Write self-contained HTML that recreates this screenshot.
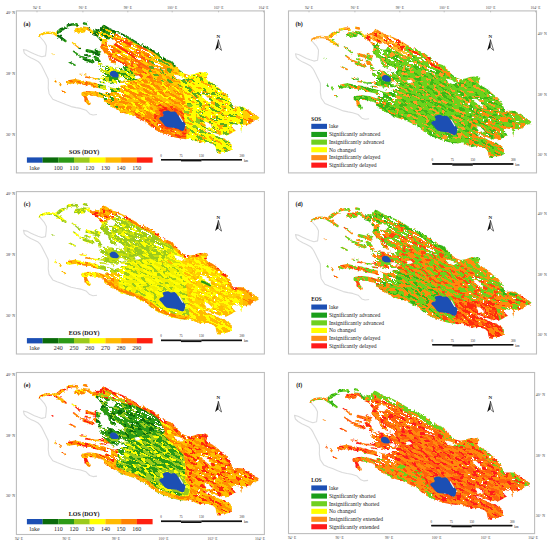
<!DOCTYPE html>
<html><head><meta charset="utf-8"><style>
html,body{margin:0;padding:0;background:#fff;width:550px;height:543px;overflow:hidden;position:relative;font-family:"Liberation Serif", serif;}
</style></head><body>
<svg width="550" height="543" viewBox="0 0 550 543" style="position:absolute;left:0;top:0">
<defs>
<clipPath id="hd"><path d="M100.0 28.0 L140.0 40.0 L170.0 60.0 L165.0 70.0 L130.0 62.0 L104.0 50.0 L98.0 38.0 Z"/><path d="M98.0 52.0 L128.0 66.0 L128.0 82.0 L124.0 100.0 L100.0 98.0 L96.0 60.0 Z"/></clipPath>
<clipPath id="hs"><path d="M178.0 62.0 L210.0 72.0 L262.0 118.0 L245.0 132.0 L200.0 150.0 L192.0 135.0 L188.0 95.0 Z"/><path d="M150.0 118.0 L180.0 125.0 L182.0 140.0 L150.0 135.0 Z"/></clipPath>
<filter id="nzh1" x="-150" y="-150" width="600" height="500" filterUnits="userSpaceOnUse">
<feTurbulence type="fractalNoise" baseFrequency="0.08 0.65" numOctaves="2" seed="11"/>
<feColorMatrix type="matrix" values="0 0 0 0 0  0 0 0 0 0  0 0 0 0 0  1 0 0 0 0"/>
<feComponentTransfer><feFuncA type="discrete" tableValues="0 0 0 0 0 0 0 0 0 0 0 0 0 0 0 0 0 0 0 0 0 0 0 0 0 0 0 0 0 0 0 0 0 0 0 0 0 0 0 0 0 0 0 0 0 0 0 0 0 0 0 0 0 0 0 0 0 0 0 0 1 1 1 1 1 1 1 1 1 1 1 1 1 1 1 1 1 1 1 1 1 1 1 1 1 1 1 1 1 1 1 1 1 1 1 1 1 1 1 1"/></feComponentTransfer>
</filter>
<filter id="nzh2" x="-150" y="-150" width="600" height="500" filterUnits="userSpaceOnUse">
<feTurbulence type="fractalNoise" baseFrequency="0.2 0.7" numOctaves="2" seed="5"/>
<feColorMatrix type="matrix" values="0 0 0 0 0  0 0 0 0 0  0 0 0 0 0  1 0 0 0 0"/>
<feComponentTransfer><feFuncA type="discrete" tableValues="0 0 0 0 0 0 0 0 0 0 0 0 0 0 0 0 0 0 0 0 0 0 0 0 0 0 0 0 0 0 0 0 0 0 0 0 0 0 0 0 0 0 0 0 0 0 0 0 0 0 0 0 0 0 0 0 0 0 0 0 0 0 0 0 0 0 0 0 0 1 1 1 1 1 1 1 1 1 1 1 1 1 1 1 1 1 1 1 1 1 1 1 1 1 1 1 1 1 1 1"/></feComponentTransfer>
</filter>
<filter id="rough" x="0" y="0" width="300" height="200" filterUnits="userSpaceOnUse" color-interpolation-filters="sRGB">
<feTurbulence type="fractalNoise" baseFrequency="0.35" numOctaves="2" seed="3"/>
<feColorMatrix type="matrix" values="1 0 0 0 0  0 1 0 0 0  0 0 1 0 0  0 0 0 0 1" result="t"/>
<feDisplacementMap in="SourceGraphic" in2="t" scale="3.2" xChannelSelector="R" yChannelSelector="G"/>
</filter>
<mask id="dm" maskUnits="userSpaceOnUse" x="0" y="0" width="300" height="200">
<rect x="0" y="0" width="300" height="200" fill="#000"/>
<g filter="url(#rough)">
<path d="M93.0 31.0 L96.0 29.5 L100.0 29.0 L103.5 24.3 L108.7 27.4 L114.5 30.3 L121.8 33.2 L129.1 36.8 L134.9 40.5 L140.7 43.4 L146.5 46.3 L153.8 49.9 L159.6 54.3 L162.5 57.2 L166.9 59.4 L172.7 61.5 L175.8 66.2 L180.2 70.5 L184.5 73.5 L188.9 74.9 L193.3 74.2 L197.6 72.7 L200.5 72.3 L204.9 72.7 L208.5 74.6 L205.6 76.4 L207.8 80.7 L212.2 82.9 L216.5 85.8 L221.4 90.2 L225.7 93.1 L230.1 98.9 L231.5 103.0 L233.2 106.8 L238.6 106.4 L243.2 106.8 L245.9 108.6 L248.6 110.5 L253.2 113.2 L256.8 115.5 L259.5 117.7 L257.7 119.5 L254.1 120.9 L251.4 123.2 L248.6 124.5 L245.0 125.0 L242.3 124.1 L241.8 127.7 L241.4 131.4 L238.6 128.6 L236.8 130.5 L234.5 131.4 L231.4 133.2 L226.0 136.0 L220.0 135.0 L213.6 132.5 L208.2 130.5 L203.6 129.7 L208.2 132.0 L212.7 133.8 L216.4 135.6 L220.0 137.5 L224.5 138.4 L226.4 140.2 L230.0 142.0 L231.8 144.7 L231.8 148.4 L230.0 151.1 L226.4 152.0 L222.7 152.0 L220.0 153.8 L217.3 153.8 L216.4 151.1 L215.5 146.5 L212.7 143.8 L208.2 142.9 L203.6 142.0 L199.1 142.9 L193.6 140.2 L190.0 138.0 L186.0 139.2 L180.0 138.6 L177.1 137.9 L171.3 136.5 L165.5 134.3 L159.6 132.1 L153.8 129.2 L149.5 125.5 L145.1 121.9 L139.3 119.0 L133.5 116.1 L126.2 113.9 L118.9 111.0 L111.6 106.6 L105.8 102.3 L103.5 100.0 L104.0 95.0 L108.0 91.0 L114.0 89.0 L120.0 86.0 L124.0 83.0 L128.0 80.0 L123.0 78.5 L120.0 77.5 L125.0 71.0 L122.0 66.0 L115.0 64.5 L110.0 62.0 L108.0 56.0 L104.0 52.0 L100.0 47.0 L102.0 43.0 L98.0 38.0 L93.0 33.0 Z" fill="#fff"/>
<path d="M73.6 29.5 L76.5 27.8 L82.4 28.1 L86.0 30.3 L84.5 32.5 L79.5 33.2 L75.0 32.2 Z" fill="#fff"/>
<path d="M101.0 68.0 L110.0 66.5 L120.0 68.0 L127.0 72.0 L128.0 78.0 L124.0 83.0 L112.0 83.0 L103.0 80.0 L100.0 74.0 Z" fill="#fff"/>
<path d="M39.3 35.8 L43.8 33.2 L48.9 32.6 L54.1 33.2 L56.7 35.2 L60.5 37.1 L63.7 39.7 L65.5 41.0" fill="none" stroke="#fff" stroke-width="2.4" stroke-linecap="round" stroke-linejoin="round"/>
<path d="M57.5 32.5 L61.0 29.5 L66.0 27.8" fill="none" stroke="#fff" stroke-width="3.2" stroke-linecap="round" stroke-linejoin="round"/>
<path d="M58.5 36.5 L61.5 38.5 L64.5 40.5" fill="none" stroke="#fff" stroke-width="1.4" stroke-linecap="round" stroke-linejoin="round"/>
<path d="M67.8 25.2 L73.6 24.3 L77.5 24.8" fill="none" stroke="#fff" stroke-width="2.5" stroke-linecap="round" stroke-linejoin="round"/>
<path d="M84.0 23.5 L87.0 24.2" fill="none" stroke="#fff" stroke-width="2.4" stroke-linecap="round" stroke-linejoin="round"/>
<path d="M82.7 28.0 L87.0 28.4 L90.9 30.5 L94.0 33.0" fill="none" stroke="#fff" stroke-width="3.0" stroke-linecap="round" stroke-linejoin="round"/>
<path d="M72.2 42.6 L76.0 45.5 L79.5 48.5" fill="none" stroke="#fff" stroke-width="1.4" stroke-linecap="round" stroke-linejoin="round"/>
<path d="M73.6 51.4 L79.5 55.7 L86.7 58.6" fill="none" stroke="#fff" stroke-width="1.6" stroke-linecap="round" stroke-linejoin="round"/>
<path d="M69.3 62.3 L75.1 65.2" fill="none" stroke="#fff" stroke-width="1.6" stroke-linecap="round" stroke-linejoin="round"/>
<path d="M68.7 82.2 L75.0 81.0 L82.0 82.5 L89.0 83.6 L96.0 85.5 L103.0 87.0 L111.0 89.5 L118.0 91.0" fill="none" stroke="#fff" stroke-width="4.2" stroke-linecap="round" stroke-linejoin="round"/>
<path d="M83.5 94.0 L90.0 93.2 L97.0 94.0 L103.6 96.0 L110.0 98.0 L116.0 99.5" fill="none" stroke="#fff" stroke-width="4.5" stroke-linecap="round" stroke-linejoin="round"/>
<path d="M85.0 96.0 L86.5 100.5 L89.0 103.5" fill="none" stroke="#fff" stroke-width="3.5" stroke-linecap="round" stroke-linejoin="round"/>
<path d="M55.0 80.5 L56.0 82.0" fill="none" stroke="#fff" stroke-width="1.5" stroke-linecap="round" stroke-linejoin="round"/>
<path d="M59.5 83.0 L60.5 85.5" fill="none" stroke="#fff" stroke-width="1.5" stroke-linecap="round" stroke-linejoin="round"/>
<path d="M62.0 91.0 L64.4 92.8" fill="none" stroke="#fff" stroke-width="1.5" stroke-linecap="round" stroke-linejoin="round"/>
<path d="M52.0 54.0 L53.0 54.5" fill="none" stroke="#fff" stroke-width="1.2" stroke-linecap="round" stroke-linejoin="round"/>
<path d="M101.0 69.5 L106.0 70.5 L112.0 72.0" fill="none" stroke="#fff" stroke-width="2.4" stroke-linecap="round" stroke-linejoin="round"/>
<path d="M119.0 74.0 L124.0 75.0 L128.0 76.5" fill="none" stroke="#fff" stroke-width="1.8" stroke-linecap="round" stroke-linejoin="round"/>
<path d="M86.0 77.0 L94.0 78.5 L102.0 79.0 L108.0 78.0" fill="none" stroke="#fff" stroke-width="1.6" stroke-linecap="round" stroke-linejoin="round"/>
<path d="M99.0 66.0 L104.0 67.0 L108.0 66.0" fill="none" stroke="#fff" stroke-width="1.4" stroke-linecap="round" stroke-linejoin="round"/>
<path d="M100.0 82.0 L108.0 83.0 L114.0 85.5" fill="none" stroke="#fff" stroke-width="1.4" stroke-linecap="round" stroke-linejoin="round"/>
<path d="M80.0 74.0 L86.0 75.0" fill="none" stroke="#fff" stroke-width="1.2" stroke-linecap="round" stroke-linejoin="round"/>
<path d="M87.0 50.5 L93.0 52.0 L99.0 55.0" fill="none" stroke="#fff" stroke-width="3.0" stroke-linecap="round" stroke-linejoin="round"/>
<path d="M84.0 59.0 L89.0 60.5 L93.0 62.0" fill="none" stroke="#fff" stroke-width="3.0" stroke-linecap="round" stroke-linejoin="round"/>
<path d="M95.0 57.0 L99.0 61.0 L100.0 64.0" fill="none" stroke="#fff" stroke-width="3.0" stroke-linecap="round" stroke-linejoin="round"/>
<path d="M96.0 50.0 L99.0 52.5" fill="none" stroke="#fff" stroke-width="3.0" stroke-linecap="round" stroke-linejoin="round"/>
<path d="M86.0 55.0 L90.0 56.0" fill="none" stroke="#fff" stroke-width="2.0" stroke-linecap="round" stroke-linejoin="round"/>
<path d="M106.4 40.0 L112.0 38.5 L116.4 42.0 L113.0 45.6 L107.0 44.5 Z" fill="#000"/>
<path d="M118.0 77.5 L122.0 77.0 L126.0 80.0 L122.0 81.5 Z" fill="#000"/>
<path d="M134.5 76.0 L139.0 75.5 L141.0 78.0 L136.0 79.0 Z" fill="#000"/>
<path d="M201.0 94.5 L205.0 95.0 L211.0 101.0 L210.0 103.3 L204.0 99.0 Z" fill="#000"/>
<path d="M175.0 74.5 L181.0 76.0 L186.0 79.5 L180.0 79.8 L175.0 77.0 Z" fill="#000"/>
<path d="M204.5 122.0 L208.0 122.5 L212.7 127.0 L210.0 128.4 L206.0 126.0 Z" fill="#000"/>
<path d="M232.5 124.0 L240.0 125.0 L241.0 132.0 L236.0 131.0 L233.0 128.0 Z" fill="#000"/>
<g clip-path="url(#hd)"><g transform="rotate(27 150 100)"><rect x="-100" y="-100" width="500" height="400" fill="#000" filter="url(#nzh1)"/></g></g>
<g clip-path="url(#hs)"><g transform="rotate(27 150 100)"><rect x="-100" y="-100" width="500" height="400" fill="#000" filter="url(#nzh2)"/></g></g>
</g>
</mask>
<filter id="sb" x="-5%" y="-5%" width="110%" height="110%"><feGaussianBlur stdDeviation="0.5"/></filter>
<filter id="nzf" x="-150" y="-150" width="600" height="500" filterUnits="userSpaceOnUse">
<feTurbulence type="fractalNoise" baseFrequency="0.13 0.45" numOctaves="3" seed="7"/>
<feColorMatrix type="matrix" values="0 0 0 0 1  0 0 0 0 1  0 0 0 0 1  1 0 0 0 0"/>
<feComponentTransfer><feFuncA type="discrete" tableValues="0 0 0 0 0 1 1 1 1 1"/></feComponentTransfer>
</filter>
<filter id="nzf2" x="-150" y="-150" width="600" height="500" filterUnits="userSpaceOnUse">
<feTurbulence type="fractalNoise" baseFrequency="0.17 0.42" numOctaves="3" seed="23"/>
<feColorMatrix type="matrix" values="0 0 0 0 1  0 0 0 0 1  0 0 0 0 1  1 0 0 0 0"/>
<feComponentTransfer><feFuncA type="discrete" tableValues="0 0 0 0 0 0 0 0 0 0 0 0 0 0 0 0 0 0 0 0 0 0 0 0 0 0 0 0 0 0 0 0 0 0 0 0 0 0 0 0 0 0 0 0 0 0 0 0 0 0 0 0 0 0 0 0 0 0 0 0 1 1 1 1 1 1 1 1 1 1 1 1 1 1 1 1 1 1 1 1 1 1 1 1 1 1 1 1 1 1 1 1 1 1 1 1 1 1 1 1"/></feComponentTransfer>
</filter>
<mask id="nm2" maskUnits="userSpaceOnUse" x="-50" y="-50" width="400" height="300">
<g transform="rotate(24 150 100)"><rect x="-100" y="-100" width="500" height="400" fill="#fff" filter="url(#nzf2)"/></g>
</mask>
<filter id="nzfL" x="-150" y="-150" width="600" height="500" filterUnits="userSpaceOnUse">
<feTurbulence type="fractalNoise" baseFrequency="0.13 0.45" numOctaves="3" seed="7"/>
<feColorMatrix type="matrix" values="0 0 0 0 1  0 0 0 0 1  0 0 0 0 1  1 0 0 0 0"/>
<feComponentTransfer><feFuncA type="discrete" tableValues="0 0 0 0 0 0 0 0 0 0 0 0 0 0 0 0 0 0 0 0 0 0 0 0 0 0 0 0 0 0 0 0 0 0 0 0 0 0 0 0 0 0 0 0 0 0 0 0 0 0 0 0 0 0 0 0 1 1 1 1 1 1 1 1 1 1 1 1 1 1 1 1 1 1 1 1 1 1 1 1 1 1 1 1 1 1 1 1 1 1 1 1 1 1 1 1 1 1 1 1"/></feComponentTransfer>
</filter>
<mask id="nmL" maskUnits="userSpaceOnUse" x="-50" y="-50" width="400" height="300">
<g transform="rotate(28 150 100)"><rect x="-100" y="-100" width="500" height="400" fill="#fff" filter="url(#nzfL)"/></g>
</mask>
<mask id="nm" maskUnits="userSpaceOnUse" x="-50" y="-50" width="400" height="300">
<g transform="rotate(28 150 100)"><rect x="-100" y="-100" width="500" height="400" fill="#fff" filter="url(#nzf)"/></g>
</mask>
</defs>
<rect x="16.4" y="10.9" width="248" height="162" fill="none" stroke="#bdbdbd" stroke-width="1.1"/>
<g transform="translate(16.4,10.9)">
<g transform="translate(-16.4,-10.9)">
<path d="M39.0 35.7 L41.5 38.5 L44.5 42.0 L46.4 45.8 L46.2 50.0 L45.5 55.9 L41.8 56.8 L38.0 55.5 L34.4 54.1 L30.5 52.2 L27.0 50.4 L23.4 49.5 L24.3 53.1 L27.0 55.6 L30.7 57.8 L34.5 59.5 L38.1 61.4 L40.2 63.5 L41.8 66.0 L43.8 70.0 L45.5 73.4 L48.2 78.9 L48.4 83.5 L48.2 88.1 L49.1 93.7 L52.8 99.2 L57.0 101.0 L62.0 102.9 L66.5 104.8 L71.2 106.6 L76.0 107.6 L80.5 108.4 L86.0 110.2 L89.7 113.9 L93.0 115.0 L97.0 114.5" fill="none" stroke="#dadada" stroke-width="1.1" stroke-linejoin="round"/>
<g filter="url(#sb)"><g mask="url(#dm)">
<g>
<path d="M0.0 0.0 L300.0 0.0 L300.0 200.0 L0.0 200.0 Z" fill="#ffc400"/>
<path d="M30.0 22.0 L57.0 22.0 L57.0 45.0 L30.0 45.0 Z" fill="#ffb400"/>
<path d="M57.0 18.0 L100.0 18.0 L100.0 33.0 L92.0 34.0 L88.0 27.0 L70.0 27.0 L66.0 45.0 L57.0 45.0 Z" fill="#2c9a16"/>
<path d="M72.0 26.5 L87.0 26.5 L87.0 34.0 L72.0 34.0 Z" fill="#ffb000"/>
<path d="M70.0 40.0 L82.0 40.0 L82.0 50.0 L70.0 50.0 Z" fill="#ffa000"/>
<path d="M70.0 49.0 L102.0 45.0 L102.0 66.0 L66.0 68.0 Z" fill="#0b6b0b"/>
<path d="M45.0 72.0 L121.0 72.0 L124.0 113.0 L45.0 113.0 Z" fill="#ffa000"/>
<path d="M98.0 80.0 L121.0 80.0 L124.0 113.0 L98.0 113.0 Z" fill="#ffd000"/>
<path d="M98.0 28.0 L140.0 40.0 L178.0 62.0 L178.0 80.0 L150.0 82.0 L125.0 72.0 L102.0 55.0 L98.0 45.0 Z" fill="#ff8200"/>
<path d="M150.0 52.0 L180.0 62.0 L188.0 90.0 L160.0 88.0 L148.0 70.0 Z" fill="#ffd000"/>
<path d="M98.0 62.0 L125.0 64.0 L140.0 80.0 L128.0 92.0 L98.0 92.0 Z" fill="#c8dc10"/>
<path d="M120.0 82.0 L150.0 78.0 L185.0 88.0 L190.0 142.0 L150.0 142.0 L118.0 112.0 Z" fill="#ff8a00"/>
<path d="M155.8 105.4 L161.3 103.5 L165.2 103.2 L169.8 105.4 L175.9 104.7 L179.1 106.9 L182.2 111.7 L185.2 114.7 L188.3 118.5 L192.2 123.2 L194.6 126.3 L193.8 130.9 L192.2 136.3 L189.2 137.8 L183.7 135.4 L179.1 133.2 L172.8 132.4 L165.2 131.7 L159.8 129.3 L156.7 125.4 L154.3 122.4 L150.4 118.5 L149.7 116.2 L152.8 113.9 L156.7 113.2 L157.4 110.0 L155.8 107.7 Z" fill="#ff8a00"/>
<path d="M159.3 108.6 L163.6 107.1 L166.7 106.8 L170.3 108.6 L175.2 108.0 L177.8 109.8 L180.2 113.6 L182.6 116.0 L185.1 119.0 L188.2 122.8 L190.1 125.2 L189.4 128.8 L188.2 133.2 L185.7 134.4 L181.4 132.5 L177.8 130.7 L172.8 130.0 L166.7 129.5 L162.4 127.6 L159.9 124.5 L158.1 122.1 L154.9 119.0 L154.4 117.2 L156.8 115.3 L159.9 114.8 L160.5 112.2 L159.3 110.5 Z" fill="#ff4010"/>
<path d="M135.1 113.0 L140.9 115.9 L147.0 118.9 L151.7 122.8 L155.7 126.3 L161.0 128.9 L166.7 131.0 L172.3 133.2 L177.9 134.5 L180.5 135.1 L185.8 135.7 L189.0 134.6 L190.9 140.9 L186.2 142.2 L179.6 141.6 L176.4 140.8 L170.4 139.4 L164.4 137.1 L158.4 134.9 L152.2 131.7 L147.6 127.8 L143.5 124.4 L138.0 121.7 L132.2 118.8 Z" fill="#ff3a10"/>
<path d="M178.0 58.0 L270.0 58.0 L270.0 162.0 L200.0 162.0 L195.0 140.0 L188.0 118.0 L185.0 100.0 L180.0 80.0 Z" fill="#ffff00"/>
<path d="M184.0 104.0 L200.0 104.0 L200.0 145.0 L186.0 145.0 L186.5 128.0 L184.0 118.0 Z" fill="#ffff00"/>
<path d="M190.0 128.0 L240.0 128.0 L240.0 160.0 L190.0 160.0 Z" fill="#ffff00"/>
<path d="M243.0 110.0 L264.0 110.0 L264.0 126.0 L243.0 126.0 Z" fill="#ff7000"/>
<path d="M90.0 22.0 L118.0 28.0 L112.0 40.0 L96.0 42.0 L90.0 35.0 Z" fill="#2c9a16"/>
<path d="M92.2 28.1 L98.4 26.5 L103.0 21.3 L110.1 24.8 L115.7 27.6 L123.0 30.5 L130.6 34.2 L136.4 37.9 L142.0 40.7 L147.8 43.6 L155.4 47.3 L161.5 52.0 L164.2 54.7 L168.1 56.6 L174.5 59.1 L178.3 64.5 L174.0 67.4 L171.4 63.2 L166.0 61.4 L161.2 59.0 L158.2 56.0 L152.7 51.8 L145.5 48.3 L139.7 45.4 L133.8 42.4 L128.0 38.7 L120.9 35.2 L113.6 32.3 L107.6 29.3 L103.9 26.5 L101.2 30.9 L93.6 33.1 Z" fill="#0b6b0b"/>
</g><g mask="url(#nm)">
<path d="M0.0 0.0 L300.0 0.0 L300.0 200.0 L0.0 200.0 Z" fill="#ff9a00"/>
<path d="M30.0 22.0 L57.0 22.0 L57.0 45.0 L30.0 45.0 Z" fill="#ffd000"/>
<path d="M57.0 18.0 L100.0 18.0 L100.0 33.0 L92.0 34.0 L88.0 27.0 L70.0 27.0 L66.0 45.0 L57.0 45.0 Z" fill="#0b6b0b"/>
<path d="M72.0 26.5 L87.0 26.5 L87.0 34.0 L72.0 34.0 Z" fill="#ffd000"/>
<path d="M70.0 40.0 L82.0 40.0 L82.0 50.0 L70.0 50.0 Z" fill="#ffd000"/>
<path d="M70.0 49.0 L102.0 45.0 L102.0 66.0 L66.0 68.0 Z" fill="#2c9a16"/>
<path d="M45.0 72.0 L121.0 72.0 L124.0 113.0 L45.0 113.0 Z" fill="#ffc000"/>
<path d="M98.0 80.0 L121.0 80.0 L124.0 113.0 L98.0 113.0 Z" fill="#ff9a00"/>
<path d="M98.0 28.0 L140.0 40.0 L178.0 62.0 L178.0 80.0 L150.0 82.0 L125.0 72.0 L102.0 55.0 L98.0 45.0 Z" fill="#ffd000"/>
<path d="M150.0 52.0 L180.0 62.0 L188.0 90.0 L160.0 88.0 L148.0 70.0 Z" fill="#ff9a00"/>
<path d="M98.0 62.0 L125.0 64.0 L140.0 80.0 L128.0 92.0 L98.0 92.0 Z" fill="#2c9a16"/>
<path d="M120.0 82.0 L150.0 78.0 L185.0 88.0 L190.0 142.0 L150.0 142.0 L118.0 112.0 Z" fill="#ffc000"/>
<path d="M155.8 105.4 L161.3 103.5 L165.2 103.2 L169.8 105.4 L175.9 104.7 L179.1 106.9 L182.2 111.7 L185.2 114.7 L188.3 118.5 L192.2 123.2 L194.6 126.3 L193.8 130.9 L192.2 136.3 L189.2 137.8 L183.7 135.4 L179.1 133.2 L172.8 132.4 L165.2 131.7 L159.8 129.3 L156.7 125.4 L154.3 122.4 L150.4 118.5 L149.7 116.2 L152.8 113.9 L156.7 113.2 L157.4 110.0 L155.8 107.7 Z" fill="#ffb000"/>
<path d="M159.3 108.6 L163.6 107.1 L166.7 106.8 L170.3 108.6 L175.2 108.0 L177.8 109.8 L180.2 113.6 L182.6 116.0 L185.1 119.0 L188.2 122.8 L190.1 125.2 L189.4 128.8 L188.2 133.2 L185.7 134.4 L181.4 132.5 L177.8 130.7 L172.8 130.0 L166.7 129.5 L162.4 127.6 L159.9 124.5 L158.1 122.1 L154.9 119.0 L154.4 117.2 L156.8 115.3 L159.9 114.8 L160.5 112.2 L159.3 110.5 Z" fill="#ff7000"/>
<path d="M135.1 113.0 L140.9 115.9 L147.0 118.9 L151.7 122.8 L155.7 126.3 L161.0 128.9 L166.7 131.0 L172.3 133.2 L177.9 134.5 L180.5 135.1 L185.8 135.7 L189.0 134.6 L190.9 140.9 L186.2 142.2 L179.6 141.6 L176.4 140.8 L170.4 139.4 L164.4 137.1 L158.4 134.9 L152.2 131.7 L147.6 127.8 L143.5 124.4 L138.0 121.7 L132.2 118.8 Z" fill="#ff8000"/>
<path d="M178.0 58.0 L270.0 58.0 L270.0 162.0 L200.0 162.0 L195.0 140.0 L188.0 118.0 L185.0 100.0 L180.0 80.0 Z" fill="#ffff00"/>
<path d="M184.0 104.0 L200.0 104.0 L200.0 145.0 L186.0 145.0 L186.5 128.0 L184.0 118.0 Z" fill="#ffff00"/>
<path d="M190.0 128.0 L240.0 128.0 L240.0 160.0 L190.0 160.0 Z" fill="#ffff00"/>
<path d="M243.0 110.0 L264.0 110.0 L264.0 126.0 L243.0 126.0 Z" fill="#ffd000"/>
<path d="M90.0 22.0 L118.0 28.0 L112.0 40.0 L96.0 42.0 L90.0 35.0 Z" fill="#ffd000"/>
<path d="M92.2 28.1 L98.4 26.5 L103.0 21.3 L110.1 24.8 L115.7 27.6 L123.0 30.5 L130.6 34.2 L136.4 37.9 L142.0 40.7 L147.8 43.6 L155.4 47.3 L161.5 52.0 L164.2 54.7 L168.1 56.6 L174.5 59.1 L178.3 64.5 L174.0 67.4 L171.4 63.2 L166.0 61.4 L161.2 59.0 L158.2 56.0 L152.7 51.8 L145.5 48.3 L139.7 45.4 L133.8 42.4 L128.0 38.7 L120.9 35.2 L113.6 32.3 L107.6 29.3 L103.9 26.5 L101.2 30.9 L93.6 33.1 Z" fill="#2c9a16"/>
</g><g mask="url(#nmL)">
<path d="M0.0 0.0 L300.0 0.0 L300.0 200.0 L0.0 200.0 Z" fill="#ff9a00"/>
<path d="M30.0 22.0 L57.0 22.0 L57.0 45.0 L30.0 45.0 Z" fill="#ffd000"/>
<path d="M57.0 18.0 L100.0 18.0 L100.0 33.0 L92.0 34.0 L88.0 27.0 L70.0 27.0 L66.0 45.0 L57.0 45.0 Z" fill="#0b6b0b"/>
<path d="M72.0 26.5 L87.0 26.5 L87.0 34.0 L72.0 34.0 Z" fill="#ffd000"/>
<path d="M70.0 40.0 L82.0 40.0 L82.0 50.0 L70.0 50.0 Z" fill="#ffd000"/>
<path d="M70.0 49.0 L102.0 45.0 L102.0 66.0 L66.0 68.0 Z" fill="#2c9a16"/>
<path d="M45.0 72.0 L121.0 72.0 L124.0 113.0 L45.0 113.0 Z" fill="#ffc000"/>
<path d="M98.0 80.0 L121.0 80.0 L124.0 113.0 L98.0 113.0 Z" fill="#ff9a00"/>
<path d="M98.0 28.0 L140.0 40.0 L178.0 62.0 L178.0 80.0 L150.0 82.0 L125.0 72.0 L102.0 55.0 L98.0 45.0 Z" fill="#ffd000"/>
<path d="M150.0 52.0 L180.0 62.0 L188.0 90.0 L160.0 88.0 L148.0 70.0 Z" fill="#ff9a00"/>
<path d="M98.0 62.0 L125.0 64.0 L140.0 80.0 L128.0 92.0 L98.0 92.0 Z" fill="#2c9a16"/>
<path d="M120.0 82.0 L150.0 78.0 L185.0 88.0 L190.0 142.0 L150.0 142.0 L118.0 112.0 Z" fill="#ffc000"/>
<path d="M155.8 105.4 L161.3 103.5 L165.2 103.2 L169.8 105.4 L175.9 104.7 L179.1 106.9 L182.2 111.7 L185.2 114.7 L188.3 118.5 L192.2 123.2 L194.6 126.3 L193.8 130.9 L192.2 136.3 L189.2 137.8 L183.7 135.4 L179.1 133.2 L172.8 132.4 L165.2 131.7 L159.8 129.3 L156.7 125.4 L154.3 122.4 L150.4 118.5 L149.7 116.2 L152.8 113.9 L156.7 113.2 L157.4 110.0 L155.8 107.7 Z" fill="#ffb000"/>
<path d="M159.3 108.6 L163.6 107.1 L166.7 106.8 L170.3 108.6 L175.2 108.0 L177.8 109.8 L180.2 113.6 L182.6 116.0 L185.1 119.0 L188.2 122.8 L190.1 125.2 L189.4 128.8 L188.2 133.2 L185.7 134.4 L181.4 132.5 L177.8 130.7 L172.8 130.0 L166.7 129.5 L162.4 127.6 L159.9 124.5 L158.1 122.1 L154.9 119.0 L154.4 117.2 L156.8 115.3 L159.9 114.8 L160.5 112.2 L159.3 110.5 Z" fill="#ff7000"/>
<path d="M135.1 113.0 L140.9 115.9 L147.0 118.9 L151.7 122.8 L155.7 126.3 L161.0 128.9 L166.7 131.0 L172.3 133.2 L177.9 134.5 L180.5 135.1 L185.8 135.7 L189.0 134.6 L190.9 140.9 L186.2 142.2 L179.6 141.6 L176.4 140.8 L170.4 139.4 L164.4 137.1 L158.4 134.9 L152.2 131.7 L147.6 127.8 L143.5 124.4 L138.0 121.7 L132.2 118.8 Z" fill="#ff8000"/>
<path d="M178.0 58.0 L270.0 58.0 L270.0 162.0 L200.0 162.0 L195.0 140.0 L188.0 118.0 L185.0 100.0 L180.0 80.0 Z" fill="#5aaa20"/>
<path d="M184.0 104.0 L200.0 104.0 L200.0 145.0 L186.0 145.0 L186.5 128.0 L184.0 118.0 Z" fill="#8cc820"/>
<path d="M190.0 128.0 L240.0 128.0 L240.0 160.0 L190.0 160.0 Z" fill="#6ab820"/>
<path d="M243.0 110.0 L264.0 110.0 L264.0 126.0 L243.0 126.0 Z" fill="#ffd000"/>
<path d="M90.0 22.0 L118.0 28.0 L112.0 40.0 L96.0 42.0 L90.0 35.0 Z" fill="#ffd000"/>
<path d="M92.2 28.1 L98.4 26.5 L103.0 21.3 L110.1 24.8 L115.7 27.6 L123.0 30.5 L130.6 34.2 L136.4 37.9 L142.0 40.7 L147.8 43.6 L155.4 47.3 L161.5 52.0 L164.2 54.7 L168.1 56.6 L174.5 59.1 L178.3 64.5 L174.0 67.4 L171.4 63.2 L166.0 61.4 L161.2 59.0 L158.2 56.0 L152.7 51.8 L145.5 48.3 L139.7 45.4 L133.8 42.4 L128.0 38.7 L120.9 35.2 L113.6 32.3 L107.6 29.3 L103.9 26.5 L101.2 30.9 L93.6 33.1 Z" fill="#2c9a16"/>
</g><g mask="url(#nm2)">
<path d="M0.0 0.0 L300.0 0.0 L300.0 200.0 L0.0 200.0 Z" fill="#ffff00"/>
<path d="M30.0 22.0 L57.0 22.0 L57.0 45.0 L30.0 45.0 Z" fill="#ffd000"/>
<path d="M57.0 18.0 L100.0 18.0 L100.0 33.0 L92.0 34.0 L88.0 27.0 L70.0 27.0 L66.0 45.0 L57.0 45.0 Z" fill="#0b6b0b"/>
<path d="M72.0 26.5 L87.0 26.5 L87.0 34.0 L72.0 34.0 Z" fill="#ffd000"/>
<path d="M70.0 40.0 L82.0 40.0 L82.0 50.0 L70.0 50.0 Z" fill="#ffd000"/>
<path d="M70.0 49.0 L102.0 45.0 L102.0 66.0 L66.0 68.0 Z" fill="#2c9a16"/>
<path d="M45.0 72.0 L121.0 72.0 L124.0 113.0 L45.0 113.0 Z" fill="#ff6a00"/>
<path d="M98.0 80.0 L121.0 80.0 L124.0 113.0 L98.0 113.0 Z" fill="#2c9a16"/>
<path d="M98.0 28.0 L140.0 40.0 L178.0 62.0 L178.0 80.0 L150.0 82.0 L125.0 72.0 L102.0 55.0 L98.0 45.0 Z" fill="#ff5a10"/>
<path d="M150.0 52.0 L180.0 62.0 L188.0 90.0 L160.0 88.0 L148.0 70.0 Z" fill="#5aaa20"/>
<path d="M98.0 62.0 L125.0 64.0 L140.0 80.0 L128.0 92.0 L98.0 92.0 Z" fill="#ffff00"/>
<path d="M120.0 82.0 L150.0 78.0 L185.0 88.0 L190.0 142.0 L150.0 142.0 L118.0 112.0 Z" fill="#ffff00"/>
<path d="M155.8 105.4 L161.3 103.5 L165.2 103.2 L169.8 105.4 L175.9 104.7 L179.1 106.9 L182.2 111.7 L185.2 114.7 L188.3 118.5 L192.2 123.2 L194.6 126.3 L193.8 130.9 L192.2 136.3 L189.2 137.8 L183.7 135.4 L179.1 133.2 L172.8 132.4 L165.2 131.7 L159.8 129.3 L156.7 125.4 L154.3 122.4 L150.4 118.5 L149.7 116.2 L152.8 113.9 L156.7 113.2 L157.4 110.0 L155.8 107.7 Z" fill="#ff4010"/>
<path d="M159.3 108.6 L163.6 107.1 L166.7 106.8 L170.3 108.6 L175.2 108.0 L177.8 109.8 L180.2 113.6 L182.6 116.0 L185.1 119.0 L188.2 122.8 L190.1 125.2 L189.4 128.8 L188.2 133.2 L185.7 134.4 L181.4 132.5 L177.8 130.7 L172.8 130.0 L166.7 129.5 L162.4 127.6 L159.9 124.5 L158.1 122.1 L154.9 119.0 L154.4 117.2 L156.8 115.3 L159.9 114.8 L160.5 112.2 L159.3 110.5 Z" fill="#ff2010"/>
<path d="M135.1 113.0 L140.9 115.9 L147.0 118.9 L151.7 122.8 L155.7 126.3 L161.0 128.9 L166.7 131.0 L172.3 133.2 L177.9 134.5 L180.5 135.1 L185.8 135.7 L189.0 134.6 L190.9 140.9 L186.2 142.2 L179.6 141.6 L176.4 140.8 L170.4 139.4 L164.4 137.1 L158.4 134.9 L152.2 131.7 L147.6 127.8 L143.5 124.4 L138.0 121.7 L132.2 118.8 Z" fill="#ff8000"/>
<path d="M178.0 58.0 L270.0 58.0 L270.0 162.0 L200.0 162.0 L195.0 140.0 L188.0 118.0 L185.0 100.0 L180.0 80.0 Z" fill="#ffa800"/>
<path d="M184.0 104.0 L200.0 104.0 L200.0 145.0 L186.0 145.0 L186.5 128.0 L184.0 118.0 Z" fill="#ffa800"/>
<path d="M190.0 128.0 L240.0 128.0 L240.0 160.0 L190.0 160.0 Z" fill="#ffa800"/>
<path d="M243.0 110.0 L264.0 110.0 L264.0 126.0 L243.0 126.0 Z" fill="#ffd000"/>
<path d="M90.0 22.0 L118.0 28.0 L112.0 40.0 L96.0 42.0 L90.0 35.0 Z" fill="#0b6b0b"/>
<path d="M92.2 28.1 L98.4 26.5 L103.0 21.3 L110.1 24.8 L115.7 27.6 L123.0 30.5 L130.6 34.2 L136.4 37.9 L142.0 40.7 L147.8 43.6 L155.4 47.3 L161.5 52.0 L164.2 54.7 L168.1 56.6 L174.5 59.1 L178.3 64.5 L174.0 67.4 L171.4 63.2 L166.0 61.4 L161.2 59.0 L158.2 56.0 L152.7 51.8 L145.5 48.3 L139.7 45.4 L133.8 42.4 L128.0 38.7 L120.9 35.2 L113.6 32.3 L107.6 29.3 L103.9 26.5 L101.2 30.9 L93.6 33.1 Z" fill="#2c9a16"/>
</g>
<path d="M113.6 43.6 L124.0 50.0 L135.5 58.2" fill="none" stroke="#ff2a10" stroke-width="2.0" stroke-linecap="round" stroke-linejoin="round"/>
<path d="M119.0 40.0 L126.0 42.5 L131.8 45.5" fill="none" stroke="#ff3010" stroke-width="1.5" stroke-linecap="round" stroke-linejoin="round"/>
<path d="M108.2 56.4 L117.0 60.0 L126.4 65.5" fill="none" stroke="#ff4010" stroke-width="2.0" stroke-linecap="round" stroke-linejoin="round"/>
<path d="M135.5 60.0 L143.0 64.5 L150.0 69.0" fill="none" stroke="#ff6010" stroke-width="1.8" stroke-linecap="round" stroke-linejoin="round"/>
<path d="M116.0 47.5 L125.0 53.0 L131.0 57.0" fill="none" stroke="#ffff00" stroke-width="1.2" stroke-linecap="round" stroke-linejoin="round"/>
</g></g>
<path d="M162.7 111.8 L165.9 110.7 L168.2 110.5 L170.9 111.8 L174.5 111.4 L176.4 112.7 L178.2 115.5 L180.0 117.3 L181.8 119.5 L184.1 122.3 L185.5 124.1 L185.0 126.8 L184.1 130.0 L182.3 130.9 L179.1 129.5 L176.4 128.2 L172.7 127.7 L168.2 127.3 L165.0 125.9 L163.2 123.6 L161.8 121.8 L159.5 119.5 L159.1 118.2 L160.9 116.8 L163.2 116.4 L163.6 114.5 L162.7 113.2 Z" fill="#1c4fb4"/>
<path d="M110.0 72.5 L111.5 71.0 L114.0 70.8 L116.5 72.0 L118.5 74.5 L118.8 76.5 L117.0 77.5 L113.0 77.3 L110.5 76.0 L109.8 74.0 Z" fill="#1c4fb4"/>
<path d="M179.3 115.8 L180.8 118.5 L182.6 121.5" fill="none" stroke="#f4f4ea" stroke-width="1.1" stroke-linecap="round"/>
<circle cx="185.6" cy="125.4" r="0.7" fill="#f4f4ea"/>
</g>
</g>
<text x="27.099999999999998" y="25.700000000000003" font-family="'Liberation Serif', serif" font-weight="bold" font-size="6" text-anchor="middle" fill="#111">(a)</text>
<text x="218.3" y="37.8" font-family="'Liberation Serif', serif" font-weight="bold" font-size="5" text-anchor="middle" fill="#111">N</text>
<path d="M218.3 39.6 L215.10000000000002 50.4 L218.3 47.6 Z" fill="#111"/>
<path d="M218.3 39.6 L221.5 50.4 L218.3 47.6 Z" fill="#fff" stroke="#111" stroke-width="0.6"/>
<rect x="161.0" y="159.0" width="81.0" height="0.8" fill="#111"/>
<rect x="161.0" y="159.8" width="81.0" height="0.5" fill="#555"/>
<rect x="161.0" y="159.0" width="20.0" height="1.5" fill="#111"/>
<rect x="181.0" y="159.8" width="20.5" height="1.6" fill="#111"/>
<rect x="201.5" y="159.0" width="40.5" height="1.5" fill="#111"/>
<text x="161.0" y="156.7" font-family="'Liberation Serif', serif" font-size="3.2" text-anchor="middle" fill="#222">0</text>
<text x="181.0" y="156.7" font-family="'Liberation Serif', serif" font-size="3.2" text-anchor="middle" fill="#222">75</text>
<text x="201.5" y="156.7" font-family="'Liberation Serif', serif" font-size="3.2" text-anchor="middle" fill="#222">150</text>
<text x="242.0" y="156.7" font-family="'Liberation Serif', serif" font-size="3.2" text-anchor="middle" fill="#222">300</text>
<text x="244.0" y="161.6" font-family="'Liberation Serif', serif" font-size="3.2" fill="#222">km</text>
<rect x="26.90" y="157.4" width="15.80" height="5.3" fill="#1c4fb4"/>
<rect x="42.60" y="157.4" width="15.80" height="5.3" fill="#0b6b0b"/>
<rect x="58.30" y="157.4" width="15.80" height="5.3" fill="#2c9a16"/>
<rect x="74.00" y="157.4" width="15.80" height="5.3" fill="#9bca1c"/>
<rect x="89.70" y="157.4" width="15.80" height="5.3" fill="#ffff00"/>
<rect x="105.40" y="157.4" width="15.80" height="5.3" fill="#ffba00"/>
<rect x="121.10" y="157.4" width="15.80" height="5.3" fill="#ff8200"/>
<rect x="136.80" y="157.4" width="15.80" height="5.3" fill="#ff2010"/>
<text x="84.19999999999999" y="154.4" font-family="'Liberation Serif', serif" font-weight="bold" font-size="6" text-anchor="middle" fill="#111">SOS (DOY)</text>
<text x="34.6" y="169.5" font-family="'Liberation Serif', serif" font-size="6" text-anchor="middle" fill="#222">lake</text>
<text x="58.30" y="169.5" font-family="'Liberation Serif', serif" font-size="6" text-anchor="middle" fill="#222">100</text>
<text x="74.00" y="169.5" font-family="'Liberation Serif', serif" font-size="6" text-anchor="middle" fill="#222">110</text>
<text x="89.70" y="169.5" font-family="'Liberation Serif', serif" font-size="6" text-anchor="middle" fill="#222">120</text>
<text x="105.40" y="169.5" font-family="'Liberation Serif', serif" font-size="6" text-anchor="middle" fill="#222">130</text>
<text x="121.10" y="169.5" font-family="'Liberation Serif', serif" font-size="6" text-anchor="middle" fill="#222">140</text>
<text x="136.80" y="169.5" font-family="'Liberation Serif', serif" font-size="6" text-anchor="middle" fill="#222">150</text>
<text x="15.2" y="14.4" font-family="'Liberation Serif', serif" font-size="3.9" text-anchor="end" fill="#333">40° N</text>
<text x="15.2" y="75.3" font-family="'Liberation Serif', serif" font-size="3.9" text-anchor="end" fill="#333">38° N</text>
<text x="15.2" y="135.8" font-family="'Liberation Serif', serif" font-size="3.9" text-anchor="end" fill="#333">36° N</text>
<rect x="288.5" y="10.9" width="248" height="162" fill="none" stroke="#bdbdbd" stroke-width="1.1"/>
<g transform="translate(288.5,15.2)">
<g transform="translate(-16.4,-10.9)">
<path d="M39.0 35.7 L41.5 38.5 L44.5 42.0 L46.4 45.8 L46.2 50.0 L45.5 55.9 L41.8 56.8 L38.0 55.5 L34.4 54.1 L30.5 52.2 L27.0 50.4 L23.4 49.5 L24.3 53.1 L27.0 55.6 L30.7 57.8 L34.5 59.5 L38.1 61.4 L40.2 63.5 L41.8 66.0 L43.8 70.0 L45.5 73.4 L48.2 78.9 L48.4 83.5 L48.2 88.1 L49.1 93.7 L52.8 99.2 L57.0 101.0 L62.0 102.9 L66.5 104.8 L71.2 106.6 L76.0 107.6 L80.5 108.4 L86.0 110.2 L89.7 113.9 L93.0 115.0 L97.0 114.5" fill="none" stroke="#dadada" stroke-width="1.1" stroke-linejoin="round"/>
<g filter="url(#sb)"><g mask="url(#dm)">
<g>
<path d="M0.0 0.0 L300.0 0.0 L300.0 200.0 L0.0 200.0 Z" fill="#6cd21c"/>
<path d="M30.0 22.0 L57.0 22.0 L57.0 45.0 L30.0 45.0 Z" fill="#ff8a10"/>
<path d="M57.0 18.0 L100.0 18.0 L100.0 33.0 L92.0 34.0 L88.0 27.0 L70.0 27.0 L66.0 45.0 L57.0 45.0 Z" fill="#ff8a10"/>
<path d="M40.0 45.0 L101.0 45.0 L101.0 68.0 L40.0 68.0 Z" fill="#6cd21c"/>
<path d="M45.0 72.0 L121.0 72.0 L124.0 113.0 L45.0 113.0 Z" fill="#6cd21c"/>
<path d="M92.2 28.1 L98.4 26.5 L103.0 21.3 L110.1 24.8 L115.7 27.6 L123.0 30.5 L130.6 34.2 L136.4 37.9 L142.0 40.7 L135.8 53.2 L129.5 50.1 L123.7 46.4 L117.3 43.2 L110.0 40.4 L103.4 37.1 L105.5 35.1 L105.9 38.3 L96.0 41.6 Z" fill="#ff8a10"/>
<path d="M136.2 37.8 L142.0 40.7 L147.8 43.6 L155.4 47.3 L161.5 52.0 L164.2 54.7 L168.1 56.6 L174.5 59.1 L178.3 64.5 L170.8 69.5 L169.1 66.3 L164.6 64.9 L159.1 62.1 L155.7 58.9 L150.7 55.0 L143.8 51.7 L138.0 48.8 L132.2 45.9 Z" fill="#ff8a10"/>
<path d="M175.2 59.8 L178.1 64.3 L182.1 68.2 L185.9 70.8 L189.1 71.9 L192.6 71.3 L196.8 69.8 L200.5 69.3 L205.7 69.8 L211.2 73.3 L210.0 77.3 L210.1 78.7 L213.7 80.3 L218.4 83.4 L223.3 87.8 L227.8 91.0 L232.7 97.4 L234.3 101.9 L234.5 104.1 L238.6 103.4 L244.1 103.9 L247.6 106.1 L250.2 108.0 L254.8 110.6 L258.5 113.1 L261.5 115.4 L264.0 117.8 L259.3 122.9 L256.9 120.7 L254.5 118.8 L251.1 116.6 L246.5 113.9 L243.6 111.9 L242.0 110.6 L238.6 110.4 L231.5 110.4 L227.8 104.5 L226.6 100.9 L222.9 95.9 L218.9 93.3 L214.0 88.9 L210.2 86.4 L204.8 83.3 L203.0 76.5 L204.9 76.4 L203.8 76.5 L200.5 76.3 L198.6 76.6 L194.3 78.1 L188.6 78.9 L182.7 77.1 L177.6 73.6 L172.7 68.8 L169.4 63.7 Z" fill="#ff8a10"/>
<path d="M178.0 58.0 L270.0 58.0 L270.0 162.0 L200.0 162.0 L195.0 140.0 L188.0 118.0 L185.0 100.0 L180.0 80.0 Z" fill="#6cd21c"/>
<path d="M190.0 128.0 L240.0 128.0 L240.0 160.0 L190.0 160.0 Z" fill="#6cd21c"/>
<path d="M205.0 104.0 L262.0 112.0 L262.0 160.0 L200.0 160.0 L196.0 130.0 Z" fill="#6cd21c"/>
<path d="M243.0 110.0 L264.0 110.0 L264.0 126.0 L243.0 126.0 Z" fill="#ff8a10"/>
</g><g mask="url(#nm)">
<path d="M0.0 0.0 L300.0 0.0 L300.0 200.0 L0.0 200.0 Z" fill="#6cd21c"/>
<path d="M30.0 22.0 L57.0 22.0 L57.0 45.0 L30.0 45.0 Z" fill="#ffb030"/>
<path d="M57.0 18.0 L100.0 18.0 L100.0 33.0 L92.0 34.0 L88.0 27.0 L70.0 27.0 L66.0 45.0 L57.0 45.0 Z" fill="#ffd000"/>
<path d="M40.0 45.0 L101.0 45.0 L101.0 68.0 L40.0 68.0 Z" fill="#ff8a10"/>
<path d="M45.0 72.0 L121.0 72.0 L124.0 113.0 L45.0 113.0 Z" fill="#34b418"/>
<path d="M92.2 28.1 L98.4 26.5 L103.0 21.3 L110.1 24.8 L115.7 27.6 L123.0 30.5 L130.6 34.2 L136.4 37.9 L142.0 40.7 L135.8 53.2 L129.5 50.1 L123.7 46.4 L117.3 43.2 L110.0 40.4 L103.4 37.1 L105.5 35.1 L105.9 38.3 L96.0 41.6 Z" fill="#ffc030"/>
<path d="M136.2 37.8 L142.0 40.7 L147.8 43.6 L155.4 47.3 L161.5 52.0 L164.2 54.7 L168.1 56.6 L174.5 59.1 L178.3 64.5 L170.8 69.5 L169.1 66.3 L164.6 64.9 L159.1 62.1 L155.7 58.9 L150.7 55.0 L143.8 51.7 L138.0 48.8 L132.2 45.9 Z" fill="#6cd21c"/>
<path d="M175.2 59.8 L178.1 64.3 L182.1 68.2 L185.9 70.8 L189.1 71.9 L192.6 71.3 L196.8 69.8 L200.5 69.3 L205.7 69.8 L211.2 73.3 L210.0 77.3 L210.1 78.7 L213.7 80.3 L218.4 83.4 L223.3 87.8 L227.8 91.0 L232.7 97.4 L234.3 101.9 L234.5 104.1 L238.6 103.4 L244.1 103.9 L247.6 106.1 L250.2 108.0 L254.8 110.6 L258.5 113.1 L261.5 115.4 L264.0 117.8 L259.3 122.9 L256.9 120.7 L254.5 118.8 L251.1 116.6 L246.5 113.9 L243.6 111.9 L242.0 110.6 L238.6 110.4 L231.5 110.4 L227.8 104.5 L226.6 100.9 L222.9 95.9 L218.9 93.3 L214.0 88.9 L210.2 86.4 L204.8 83.3 L203.0 76.5 L204.9 76.4 L203.8 76.5 L200.5 76.3 L198.6 76.6 L194.3 78.1 L188.6 78.9 L182.7 77.1 L177.6 73.6 L172.7 68.8 L169.4 63.7 Z" fill="#6cd21c"/>
<path d="M178.0 58.0 L270.0 58.0 L270.0 162.0 L200.0 162.0 L195.0 140.0 L188.0 118.0 L185.0 100.0 L180.0 80.0 Z" fill="#6cd21c"/>
<path d="M190.0 128.0 L240.0 128.0 L240.0 160.0 L190.0 160.0 Z" fill="#6cd21c"/>
<path d="M205.0 104.0 L262.0 112.0 L262.0 160.0 L200.0 160.0 L196.0 130.0 Z" fill="#ff8a10"/>
<path d="M243.0 110.0 L264.0 110.0 L264.0 126.0 L243.0 126.0 Z" fill="#6cd21c"/>
</g><g mask="url(#nmL)">
<path d="M0.0 0.0 L300.0 0.0 L300.0 200.0 L0.0 200.0 Z" fill="#3cb818"/>
<path d="M30.0 22.0 L57.0 22.0 L57.0 45.0 L30.0 45.0 Z" fill="#ffb030"/>
<path d="M57.0 18.0 L100.0 18.0 L100.0 33.0 L92.0 34.0 L88.0 27.0 L70.0 27.0 L66.0 45.0 L57.0 45.0 Z" fill="#ffd000"/>
<path d="M40.0 45.0 L101.0 45.0 L101.0 68.0 L40.0 68.0 Z" fill="#ff8a10"/>
<path d="M45.0 72.0 L121.0 72.0 L124.0 113.0 L45.0 113.0 Z" fill="#34b418"/>
<path d="M92.2 28.1 L98.4 26.5 L103.0 21.3 L110.1 24.8 L115.7 27.6 L123.0 30.5 L130.6 34.2 L136.4 37.9 L142.0 40.7 L135.8 53.2 L129.5 50.1 L123.7 46.4 L117.3 43.2 L110.0 40.4 L103.4 37.1 L105.5 35.1 L105.9 38.3 L96.0 41.6 Z" fill="#ffc030"/>
<path d="M136.2 37.8 L142.0 40.7 L147.8 43.6 L155.4 47.3 L161.5 52.0 L164.2 54.7 L168.1 56.6 L174.5 59.1 L178.3 64.5 L170.8 69.5 L169.1 66.3 L164.6 64.9 L159.1 62.1 L155.7 58.9 L150.7 55.0 L143.8 51.7 L138.0 48.8 L132.2 45.9 Z" fill="#6cd21c"/>
<path d="M175.2 59.8 L178.1 64.3 L182.1 68.2 L185.9 70.8 L189.1 71.9 L192.6 71.3 L196.8 69.8 L200.5 69.3 L205.7 69.8 L211.2 73.3 L210.0 77.3 L210.1 78.7 L213.7 80.3 L218.4 83.4 L223.3 87.8 L227.8 91.0 L232.7 97.4 L234.3 101.9 L234.5 104.1 L238.6 103.4 L244.1 103.9 L247.6 106.1 L250.2 108.0 L254.8 110.6 L258.5 113.1 L261.5 115.4 L264.0 117.8 L259.3 122.9 L256.9 120.7 L254.5 118.8 L251.1 116.6 L246.5 113.9 L243.6 111.9 L242.0 110.6 L238.6 110.4 L231.5 110.4 L227.8 104.5 L226.6 100.9 L222.9 95.9 L218.9 93.3 L214.0 88.9 L210.2 86.4 L204.8 83.3 L203.0 76.5 L204.9 76.4 L203.8 76.5 L200.5 76.3 L198.6 76.6 L194.3 78.1 L188.6 78.9 L182.7 77.1 L177.6 73.6 L172.7 68.8 L169.4 63.7 Z" fill="#6cd21c"/>
<path d="M178.0 58.0 L270.0 58.0 L270.0 162.0 L200.0 162.0 L195.0 140.0 L188.0 118.0 L185.0 100.0 L180.0 80.0 Z" fill="#3cb818"/>
<path d="M190.0 128.0 L240.0 128.0 L240.0 160.0 L190.0 160.0 Z" fill="#ff8a10"/>
<path d="M205.0 104.0 L262.0 112.0 L262.0 160.0 L200.0 160.0 L196.0 130.0 Z" fill="#ff8a10"/>
<path d="M243.0 110.0 L264.0 110.0 L264.0 126.0 L243.0 126.0 Z" fill="#6cd21c"/>
</g><g mask="url(#nm2)">
<path d="M0.0 0.0 L300.0 0.0 L300.0 200.0 L0.0 200.0 Z" fill="#ff9a20"/>
<path d="M30.0 22.0 L57.0 22.0 L57.0 45.0 L30.0 45.0 Z" fill="#ffb030"/>
<path d="M57.0 18.0 L100.0 18.0 L100.0 33.0 L92.0 34.0 L88.0 27.0 L70.0 27.0 L66.0 45.0 L57.0 45.0 Z" fill="#6cd21c"/>
<path d="M40.0 45.0 L101.0 45.0 L101.0 68.0 L40.0 68.0 Z" fill="#ff8a10"/>
<path d="M45.0 72.0 L121.0 72.0 L124.0 113.0 L45.0 113.0 Z" fill="#ff8a10"/>
<path d="M92.2 28.1 L98.4 26.5 L103.0 21.3 L110.1 24.8 L115.7 27.6 L123.0 30.5 L130.6 34.2 L136.4 37.9 L142.0 40.7 L135.8 53.2 L129.5 50.1 L123.7 46.4 L117.3 43.2 L110.0 40.4 L103.4 37.1 L105.5 35.1 L105.9 38.3 L96.0 41.6 Z" fill="#ff2010"/>
<path d="M136.2 37.8 L142.0 40.7 L147.8 43.6 L155.4 47.3 L161.5 52.0 L164.2 54.7 L168.1 56.6 L174.5 59.1 L178.3 64.5 L170.8 69.5 L169.1 66.3 L164.6 64.9 L159.1 62.1 L155.7 58.9 L150.7 55.0 L143.8 51.7 L138.0 48.8 L132.2 45.9 Z" fill="#ff2010"/>
<path d="M175.2 59.8 L178.1 64.3 L182.1 68.2 L185.9 70.8 L189.1 71.9 L192.6 71.3 L196.8 69.8 L200.5 69.3 L205.7 69.8 L211.2 73.3 L210.0 77.3 L210.1 78.7 L213.7 80.3 L218.4 83.4 L223.3 87.8 L227.8 91.0 L232.7 97.4 L234.3 101.9 L234.5 104.1 L238.6 103.4 L244.1 103.9 L247.6 106.1 L250.2 108.0 L254.8 110.6 L258.5 113.1 L261.5 115.4 L264.0 117.8 L259.3 122.9 L256.9 120.7 L254.5 118.8 L251.1 116.6 L246.5 113.9 L243.6 111.9 L242.0 110.6 L238.6 110.4 L231.5 110.4 L227.8 104.5 L226.6 100.9 L222.9 95.9 L218.9 93.3 L214.0 88.9 L210.2 86.4 L204.8 83.3 L203.0 76.5 L204.9 76.4 L203.8 76.5 L200.5 76.3 L198.6 76.6 L194.3 78.1 L188.6 78.9 L182.7 77.1 L177.6 73.6 L172.7 68.8 L169.4 63.7 Z" fill="#ffc030"/>
<path d="M178.0 58.0 L270.0 58.0 L270.0 162.0 L200.0 162.0 L195.0 140.0 L188.0 118.0 L185.0 100.0 L180.0 80.0 Z" fill="#ff9a20"/>
<path d="M190.0 128.0 L240.0 128.0 L240.0 160.0 L190.0 160.0 Z" fill="#34b418"/>
<path d="M205.0 104.0 L262.0 112.0 L262.0 160.0 L200.0 160.0 L196.0 130.0 Z" fill="#3cb818"/>
<path d="M243.0 110.0 L264.0 110.0 L264.0 126.0 L243.0 126.0 Z" fill="#6cd21c"/>
</g>
</g></g>
<path d="M162.7 111.8 L165.9 110.7 L168.2 110.5 L170.9 111.8 L174.5 111.4 L176.4 112.7 L178.2 115.5 L180.0 117.3 L181.8 119.5 L184.1 122.3 L185.5 124.1 L185.0 126.8 L184.1 130.0 L182.3 130.9 L179.1 129.5 L176.4 128.2 L172.7 127.7 L168.2 127.3 L165.0 125.9 L163.2 123.6 L161.8 121.8 L159.5 119.5 L159.1 118.2 L160.9 116.8 L163.2 116.4 L163.6 114.5 L162.7 113.2 Z" fill="#1c4fb4"/>
<path d="M110.0 72.5 L111.5 71.0 L114.0 70.8 L116.5 72.0 L118.5 74.5 L118.8 76.5 L117.0 77.5 L113.0 77.3 L110.5 76.0 L109.8 74.0 Z" fill="#1c4fb4"/>
<path d="M179.3 115.8 L180.8 118.5 L182.6 121.5" fill="none" stroke="#f4f4ea" stroke-width="1.1" stroke-linecap="round"/>
<circle cx="185.6" cy="125.4" r="0.7" fill="#f4f4ea"/>
</g>
</g>
<text x="299.2" y="25.700000000000003" font-family="'Liberation Serif', serif" font-weight="bold" font-size="6" text-anchor="middle" fill="#111">(b)</text>
<text x="490.4" y="37.8" font-family="'Liberation Serif', serif" font-weight="bold" font-size="5" text-anchor="middle" fill="#111">N</text>
<path d="M490.4 39.6 L487.2 50.4 L490.4 47.6 Z" fill="#111"/>
<path d="M490.4 39.6 L493.59999999999997 50.4 L490.4 47.6 Z" fill="#fff" stroke="#111" stroke-width="0.6"/>
<rect x="432.29999999999995" y="163.29999999999998" width="81.0" height="0.8" fill="#111"/>
<rect x="432.29999999999995" y="164.1" width="81.0" height="0.5" fill="#555"/>
<rect x="432.29999999999995" y="163.29999999999998" width="20.0" height="1.5" fill="#111"/>
<rect x="452.29999999999995" y="164.1" width="20.5" height="1.6" fill="#111"/>
<rect x="472.79999999999995" y="163.29999999999998" width="40.5" height="1.5" fill="#111"/>
<text x="432.29999999999995" y="160.99999999999997" font-family="'Liberation Serif', serif" font-size="3.2" text-anchor="middle" fill="#222">0</text>
<text x="452.29999999999995" y="160.99999999999997" font-family="'Liberation Serif', serif" font-size="3.2" text-anchor="middle" fill="#222">75</text>
<text x="472.79999999999995" y="160.99999999999997" font-family="'Liberation Serif', serif" font-size="3.2" text-anchor="middle" fill="#222">150</text>
<text x="513.3" y="160.99999999999997" font-family="'Liberation Serif', serif" font-size="3.2" text-anchor="middle" fill="#222">300</text>
<text x="515.3" y="165.89999999999998" font-family="'Liberation Serif', serif" font-size="3.2" fill="#222">km</text>
<text x="311.3" y="120.5" font-family="'Liberation Serif', serif" font-weight="bold" font-size="5.2" fill="#111">SOS</text>
<rect x="311.3" y="123.80" width="15.7" height="5.1" fill="#1c4fb4"/>
<text x="328.9" y="128.10" font-family="'Liberation Serif', serif" font-size="5.6" fill="#222">lake</text>
<rect x="311.3" y="131.90" width="15.7" height="5.1" fill="#1a9e1a"/>
<text x="328.9" y="136.20" font-family="'Liberation Serif', serif" font-size="5.6" fill="#222">Significantly advanced</text>
<rect x="311.3" y="139.60" width="15.7" height="5.1" fill="#6fd020"/>
<text x="328.9" y="143.90" font-family="'Liberation Serif', serif" font-size="5.6" fill="#222">Insignificantly advanced</text>
<rect x="311.3" y="147.20" width="15.7" height="5.1" fill="#ffff00"/>
<text x="328.9" y="151.50" font-family="'Liberation Serif', serif" font-size="5.6" fill="#222">No changed</text>
<rect x="311.3" y="155.10" width="15.7" height="5.1" fill="#ff8c1a"/>
<text x="328.9" y="159.40" font-family="'Liberation Serif', serif" font-size="5.6" fill="#222">Insignificantly delayed</text>
<rect x="311.3" y="162.60" width="15.7" height="5.1" fill="#ff1a1a"/>
<text x="328.9" y="166.90" font-family="'Liberation Serif', serif" font-size="5.6" fill="#222">Significantly delayed</text>
<text x="537.7" y="34.5" font-family="'Liberation Serif', serif" font-size="3.9" fill="#444">40° N</text>
<text x="537.7" y="95.7" font-family="'Liberation Serif', serif" font-size="3.9" fill="#444">38° N</text>
<text x="537.7" y="155.70000000000002" font-family="'Liberation Serif', serif" font-size="3.9" fill="#444">36° N</text>
<rect x="16.4" y="191.6" width="248" height="162.4" fill="none" stroke="#bdbdbd" stroke-width="1.1"/>
<g transform="translate(16.4,191.6)">
<g transform="translate(-16.4,-10.9)">
<path d="M39.0 35.7 L41.5 38.5 L44.5 42.0 L46.4 45.8 L46.2 50.0 L45.5 55.9 L41.8 56.8 L38.0 55.5 L34.4 54.1 L30.5 52.2 L27.0 50.4 L23.4 49.5 L24.3 53.1 L27.0 55.6 L30.7 57.8 L34.5 59.5 L38.1 61.4 L40.2 63.5 L41.8 66.0 L43.8 70.0 L45.5 73.4 L48.2 78.9 L48.4 83.5 L48.2 88.1 L49.1 93.7 L52.8 99.2 L57.0 101.0 L62.0 102.9 L66.5 104.8 L71.2 106.6 L76.0 107.6 L80.5 108.4 L86.0 110.2 L89.7 113.9 L93.0 115.0 L97.0 114.5" fill="none" stroke="#dadada" stroke-width="1.1" stroke-linejoin="round"/>
<g filter="url(#sb)"><g mask="url(#dm)">
<g>
<path d="M0.0 0.0 L300.0 0.0 L300.0 200.0 L0.0 200.0 Z" fill="#ffff00"/>
<path d="M0.0 0.0 L178.0 0.0 L178.0 64.0 L160.0 82.0 L140.0 98.0 L120.0 100.0 L0.0 100.0 Z" fill="#9bca1c"/>
<path d="M30.0 22.0 L57.0 22.0 L57.0 45.0 L30.0 45.0 Z" fill="#9bca1c"/>
<path d="M45.0 72.0 L121.0 72.0 L124.0 113.0 L45.0 113.0 Z" fill="#ffba00"/>
<path d="M100.0 84.0 L125.0 88.0 L140.0 112.0 L125.0 116.0 L100.0 104.0 Z" fill="#ffd000"/>
<path d="M98.0 62.0 L125.0 64.0 L140.0 80.0 L128.0 92.0 L98.0 92.0 Z" fill="#9bca1c"/>
<path d="M120.0 82.0 L150.0 78.0 L185.0 88.0 L190.0 142.0 L150.0 142.0 L118.0 112.0 Z" fill="#ffff00"/>
<path d="M178.0 58.0 L270.0 58.0 L270.0 162.0 L200.0 162.0 L195.0 140.0 L188.0 118.0 L185.0 100.0 L180.0 80.0 Z" fill="#ffff00"/>
<path d="M92.2 28.1 L98.4 26.5 L103.0 21.3 L110.1 24.8 L115.7 27.6 L123.0 30.5 L130.6 34.2 L136.4 37.9 L142.0 40.7 L147.8 43.6 L155.4 47.3 L161.5 52.0 L164.2 54.7 L168.1 56.6 L174.5 59.1 L178.1 64.3 L182.1 68.2 L185.9 70.8 L189.1 71.9 L192.6 71.3 L196.8 69.8 L200.5 69.3 L205.7 69.8 L211.2 73.3 L210.0 77.3 L210.1 78.7 L213.7 80.3 L218.4 83.4 L223.3 87.8 L227.8 91.0 L232.7 97.4 L234.3 101.9 L234.5 104.1 L238.6 103.4 L244.1 103.9 L247.6 106.1 L250.2 108.0 L254.8 110.6 L258.5 113.1 L261.5 115.4 L264.0 117.8 L260.0 122.2 L257.5 120.0 L255.1 117.9 L251.6 115.8 L247.0 113.0 L244.2 111.1 L242.3 109.7 L238.6 109.4 L231.9 109.5 L228.7 104.1 L227.5 100.4 L223.6 95.2 L219.5 92.6 L214.6 88.2 L210.7 85.5 L205.5 82.7 L204.0 76.7 L205.8 75.9 L204.1 75.6 L200.5 75.3 L198.4 75.6 L194.0 77.1 L188.7 77.9 L183.1 76.2 L178.3 72.8 L173.5 68.1 L170.9 63.9 L165.7 62.2 L160.8 59.7 L157.7 56.6 L152.2 52.5 L145.2 49.0 L139.4 46.1 L133.4 43.1 L127.6 39.4 L120.6 35.9 L113.3 33.0 L107.3 30.0 L104.0 27.3 L101.6 31.5 L93.8 33.9 Z" fill="#ffba00"/>
<path d="M90.0 22.0 L118.0 28.0 L112.0 40.0 L96.0 42.0 L90.0 35.0 Z" fill="#ffba00"/>
<path d="M101.8 95.8 L107.9 98.9 L113.8 103.3 L120.7 107.4 L127.5 110.1 L135.0 112.4 L141.1 115.4 L147.2 118.5 L152.1 122.4 L156.0 125.9 L161.2 128.4 L166.9 130.6 L172.5 132.7 L178.0 134.0 L180.6 134.6 L185.8 135.2 L188.9 134.2 L189.9 137.5 L186.0 138.7 L180.1 138.1 L177.2 137.4 L171.4 136.0 L165.7 133.8 L159.8 131.6 L154.1 128.8 L149.8 125.1 L145.4 121.5 L139.5 118.6 L133.7 115.6 L126.4 113.4 L119.1 110.6 L111.9 106.2 L106.1 101.9 L100.2 99.0 Z" fill="#ffba00"/>
<path d="M243.0 110.0 L264.0 110.0 L264.0 126.0 L243.0 126.0 Z" fill="#ff8200"/>
<path d="M190.0 128.0 L240.0 128.0 L240.0 160.0 L190.0 160.0 Z" fill="#ffff00"/>
</g><g mask="url(#nm)">
<path d="M0.0 0.0 L300.0 0.0 L300.0 200.0 L0.0 200.0 Z" fill="#c8e010"/>
<path d="M0.0 0.0 L178.0 0.0 L178.0 64.0 L160.0 82.0 L140.0 98.0 L120.0 100.0 L0.0 100.0 Z" fill="#9bca1c"/>
<path d="M30.0 22.0 L57.0 22.0 L57.0 45.0 L30.0 45.0 Z" fill="#ffff00"/>
<path d="M45.0 72.0 L121.0 72.0 L124.0 113.0 L45.0 113.0 Z" fill="#ffff00"/>
<path d="M100.0 84.0 L125.0 88.0 L140.0 112.0 L125.0 116.0 L100.0 104.0 Z" fill="#ffba00"/>
<path d="M98.0 62.0 L125.0 64.0 L140.0 80.0 L128.0 92.0 L98.0 92.0 Z" fill="#c8e010"/>
<path d="M120.0 82.0 L150.0 78.0 L185.0 88.0 L190.0 142.0 L150.0 142.0 L118.0 112.0 Z" fill="#f0f000"/>
<path d="M178.0 58.0 L270.0 58.0 L270.0 162.0 L200.0 162.0 L195.0 140.0 L188.0 118.0 L185.0 100.0 L180.0 80.0 Z" fill="#ffd000"/>
<path d="M92.2 28.1 L98.4 26.5 L103.0 21.3 L110.1 24.8 L115.7 27.6 L123.0 30.5 L130.6 34.2 L136.4 37.9 L142.0 40.7 L147.8 43.6 L155.4 47.3 L161.5 52.0 L164.2 54.7 L168.1 56.6 L174.5 59.1 L178.1 64.3 L182.1 68.2 L185.9 70.8 L189.1 71.9 L192.6 71.3 L196.8 69.8 L200.5 69.3 L205.7 69.8 L211.2 73.3 L210.0 77.3 L210.1 78.7 L213.7 80.3 L218.4 83.4 L223.3 87.8 L227.8 91.0 L232.7 97.4 L234.3 101.9 L234.5 104.1 L238.6 103.4 L244.1 103.9 L247.6 106.1 L250.2 108.0 L254.8 110.6 L258.5 113.1 L261.5 115.4 L264.0 117.8 L260.0 122.2 L257.5 120.0 L255.1 117.9 L251.6 115.8 L247.0 113.0 L244.2 111.1 L242.3 109.7 L238.6 109.4 L231.9 109.5 L228.7 104.1 L227.5 100.4 L223.6 95.2 L219.5 92.6 L214.6 88.2 L210.7 85.5 L205.5 82.7 L204.0 76.7 L205.8 75.9 L204.1 75.6 L200.5 75.3 L198.4 75.6 L194.0 77.1 L188.7 77.9 L183.1 76.2 L178.3 72.8 L173.5 68.1 L170.9 63.9 L165.7 62.2 L160.8 59.7 L157.7 56.6 L152.2 52.5 L145.2 49.0 L139.4 46.1 L133.4 43.1 L127.6 39.4 L120.6 35.9 L113.3 33.0 L107.3 30.0 L104.0 27.3 L101.6 31.5 L93.8 33.9 Z" fill="#ff8200"/>
<path d="M90.0 22.0 L118.0 28.0 L112.0 40.0 L96.0 42.0 L90.0 35.0 Z" fill="#ff8200"/>
<path d="M101.8 95.8 L107.9 98.9 L113.8 103.3 L120.7 107.4 L127.5 110.1 L135.0 112.4 L141.1 115.4 L147.2 118.5 L152.1 122.4 L156.0 125.9 L161.2 128.4 L166.9 130.6 L172.5 132.7 L178.0 134.0 L180.6 134.6 L185.8 135.2 L188.9 134.2 L189.9 137.5 L186.0 138.7 L180.1 138.1 L177.2 137.4 L171.4 136.0 L165.7 133.8 L159.8 131.6 L154.1 128.8 L149.8 125.1 L145.4 121.5 L139.5 118.6 L133.7 115.6 L126.4 113.4 L119.1 110.6 L111.9 106.2 L106.1 101.9 L100.2 99.0 Z" fill="#ff8200"/>
<path d="M243.0 110.0 L264.0 110.0 L264.0 126.0 L243.0 126.0 Z" fill="#ffba00"/>
<path d="M190.0 128.0 L240.0 128.0 L240.0 160.0 L190.0 160.0 Z" fill="#ffba00"/>
</g><g mask="url(#nmL)">
<path d="M0.0 0.0 L300.0 0.0 L300.0 200.0 L0.0 200.0 Z" fill="#c8e010"/>
<path d="M0.0 0.0 L178.0 0.0 L178.0 64.0 L160.0 82.0 L140.0 98.0 L120.0 100.0 L0.0 100.0 Z" fill="#ffff00"/>
<path d="M30.0 22.0 L57.0 22.0 L57.0 45.0 L30.0 45.0 Z" fill="#ffff00"/>
<path d="M45.0 72.0 L121.0 72.0 L124.0 113.0 L45.0 113.0 Z" fill="#ffff00"/>
<path d="M100.0 84.0 L125.0 88.0 L140.0 112.0 L125.0 116.0 L100.0 104.0 Z" fill="#ffba00"/>
<path d="M98.0 62.0 L125.0 64.0 L140.0 80.0 L128.0 92.0 L98.0 92.0 Z" fill="#c8e010"/>
<path d="M120.0 82.0 L150.0 78.0 L185.0 88.0 L190.0 142.0 L150.0 142.0 L118.0 112.0 Z" fill="#f0f000"/>
<path d="M178.0 58.0 L270.0 58.0 L270.0 162.0 L200.0 162.0 L195.0 140.0 L188.0 118.0 L185.0 100.0 L180.0 80.0 Z" fill="#ffd000"/>
<path d="M92.2 28.1 L98.4 26.5 L103.0 21.3 L110.1 24.8 L115.7 27.6 L123.0 30.5 L130.6 34.2 L136.4 37.9 L142.0 40.7 L147.8 43.6 L155.4 47.3 L161.5 52.0 L164.2 54.7 L168.1 56.6 L174.5 59.1 L178.1 64.3 L182.1 68.2 L185.9 70.8 L189.1 71.9 L192.6 71.3 L196.8 69.8 L200.5 69.3 L205.7 69.8 L211.2 73.3 L210.0 77.3 L210.1 78.7 L213.7 80.3 L218.4 83.4 L223.3 87.8 L227.8 91.0 L232.7 97.4 L234.3 101.9 L234.5 104.1 L238.6 103.4 L244.1 103.9 L247.6 106.1 L250.2 108.0 L254.8 110.6 L258.5 113.1 L261.5 115.4 L264.0 117.8 L260.0 122.2 L257.5 120.0 L255.1 117.9 L251.6 115.8 L247.0 113.0 L244.2 111.1 L242.3 109.7 L238.6 109.4 L231.9 109.5 L228.7 104.1 L227.5 100.4 L223.6 95.2 L219.5 92.6 L214.6 88.2 L210.7 85.5 L205.5 82.7 L204.0 76.7 L205.8 75.9 L204.1 75.6 L200.5 75.3 L198.4 75.6 L194.0 77.1 L188.7 77.9 L183.1 76.2 L178.3 72.8 L173.5 68.1 L170.9 63.9 L165.7 62.2 L160.8 59.7 L157.7 56.6 L152.2 52.5 L145.2 49.0 L139.4 46.1 L133.4 43.1 L127.6 39.4 L120.6 35.9 L113.3 33.0 L107.3 30.0 L104.0 27.3 L101.6 31.5 L93.8 33.9 Z" fill="#ff8200"/>
<path d="M90.0 22.0 L118.0 28.0 L112.0 40.0 L96.0 42.0 L90.0 35.0 Z" fill="#ff8200"/>
<path d="M101.8 95.8 L107.9 98.9 L113.8 103.3 L120.7 107.4 L127.5 110.1 L135.0 112.4 L141.1 115.4 L147.2 118.5 L152.1 122.4 L156.0 125.9 L161.2 128.4 L166.9 130.6 L172.5 132.7 L178.0 134.0 L180.6 134.6 L185.8 135.2 L188.9 134.2 L189.9 137.5 L186.0 138.7 L180.1 138.1 L177.2 137.4 L171.4 136.0 L165.7 133.8 L159.8 131.6 L154.1 128.8 L149.8 125.1 L145.4 121.5 L139.5 118.6 L133.7 115.6 L126.4 113.4 L119.1 110.6 L111.9 106.2 L106.1 101.9 L100.2 99.0 Z" fill="#ff8200"/>
<path d="M243.0 110.0 L264.0 110.0 L264.0 126.0 L243.0 126.0 Z" fill="#ffba00"/>
<path d="M190.0 128.0 L240.0 128.0 L240.0 160.0 L190.0 160.0 Z" fill="#ffba00"/>
</g><g mask="url(#nm2)">
<path d="M0.0 0.0 L300.0 0.0 L300.0 200.0 L0.0 200.0 Z" fill="#ffba00"/>
<path d="M0.0 0.0 L178.0 0.0 L178.0 64.0 L160.0 82.0 L140.0 98.0 L120.0 100.0 L0.0 100.0 Z" fill="#c8e010"/>
<path d="M30.0 22.0 L57.0 22.0 L57.0 45.0 L30.0 45.0 Z" fill="#ffff00"/>
<path d="M45.0 72.0 L121.0 72.0 L124.0 113.0 L45.0 113.0 Z" fill="#ff8200"/>
<path d="M100.0 84.0 L125.0 88.0 L140.0 112.0 L125.0 116.0 L100.0 104.0 Z" fill="#ff8200"/>
<path d="M98.0 62.0 L125.0 64.0 L140.0 80.0 L128.0 92.0 L98.0 92.0 Z" fill="#c8e010"/>
<path d="M120.0 82.0 L150.0 78.0 L185.0 88.0 L190.0 142.0 L150.0 142.0 L118.0 112.0 Z" fill="#9bca1c"/>
<path d="M178.0 58.0 L270.0 58.0 L270.0 162.0 L200.0 162.0 L195.0 140.0 L188.0 118.0 L185.0 100.0 L180.0 80.0 Z" fill="#ffba00"/>
<path d="M92.2 28.1 L98.4 26.5 L103.0 21.3 L110.1 24.8 L115.7 27.6 L123.0 30.5 L130.6 34.2 L136.4 37.9 L142.0 40.7 L147.8 43.6 L155.4 47.3 L161.5 52.0 L164.2 54.7 L168.1 56.6 L174.5 59.1 L178.1 64.3 L182.1 68.2 L185.9 70.8 L189.1 71.9 L192.6 71.3 L196.8 69.8 L200.5 69.3 L205.7 69.8 L211.2 73.3 L210.0 77.3 L210.1 78.7 L213.7 80.3 L218.4 83.4 L223.3 87.8 L227.8 91.0 L232.7 97.4 L234.3 101.9 L234.5 104.1 L238.6 103.4 L244.1 103.9 L247.6 106.1 L250.2 108.0 L254.8 110.6 L258.5 113.1 L261.5 115.4 L264.0 117.8 L260.0 122.2 L257.5 120.0 L255.1 117.9 L251.6 115.8 L247.0 113.0 L244.2 111.1 L242.3 109.7 L238.6 109.4 L231.9 109.5 L228.7 104.1 L227.5 100.4 L223.6 95.2 L219.5 92.6 L214.6 88.2 L210.7 85.5 L205.5 82.7 L204.0 76.7 L205.8 75.9 L204.1 75.6 L200.5 75.3 L198.4 75.6 L194.0 77.1 L188.7 77.9 L183.1 76.2 L178.3 72.8 L173.5 68.1 L170.9 63.9 L165.7 62.2 L160.8 59.7 L157.7 56.6 L152.2 52.5 L145.2 49.0 L139.4 46.1 L133.4 43.1 L127.6 39.4 L120.6 35.9 L113.3 33.0 L107.3 30.0 L104.0 27.3 L101.6 31.5 L93.8 33.9 Z" fill="#ff2010"/>
<path d="M90.0 22.0 L118.0 28.0 L112.0 40.0 L96.0 42.0 L90.0 35.0 Z" fill="#ff2010"/>
<path d="M101.8 95.8 L107.9 98.9 L113.8 103.3 L120.7 107.4 L127.5 110.1 L135.0 112.4 L141.1 115.4 L147.2 118.5 L152.1 122.4 L156.0 125.9 L161.2 128.4 L166.9 130.6 L172.5 132.7 L178.0 134.0 L180.6 134.6 L185.8 135.2 L188.9 134.2 L189.9 137.5 L186.0 138.7 L180.1 138.1 L177.2 137.4 L171.4 136.0 L165.7 133.8 L159.8 131.6 L154.1 128.8 L149.8 125.1 L145.4 121.5 L139.5 118.6 L133.7 115.6 L126.4 113.4 L119.1 110.6 L111.9 106.2 L106.1 101.9 L100.2 99.0 Z" fill="#ff8200"/>
<path d="M243.0 110.0 L264.0 110.0 L264.0 126.0 L243.0 126.0 Z" fill="#ffba00"/>
<path d="M190.0 128.0 L240.0 128.0 L240.0 160.0 L190.0 160.0 Z" fill="#ffba00"/>
</g>
<path d="M202.0 101.0 L206.0 102.5 L210.0 104.5" fill="none" stroke="#2c9a16" stroke-width="2.4" stroke-linecap="round" stroke-linejoin="round"/>
</g></g>
<path d="M162.7 111.8 L165.9 110.7 L168.2 110.5 L170.9 111.8 L174.5 111.4 L176.4 112.7 L178.2 115.5 L180.0 117.3 L181.8 119.5 L184.1 122.3 L185.5 124.1 L185.0 126.8 L184.1 130.0 L182.3 130.9 L179.1 129.5 L176.4 128.2 L172.7 127.7 L168.2 127.3 L165.0 125.9 L163.2 123.6 L161.8 121.8 L159.5 119.5 L159.1 118.2 L160.9 116.8 L163.2 116.4 L163.6 114.5 L162.7 113.2 Z" fill="#1c4fb4"/>
<path d="M110.0 72.5 L111.5 71.0 L114.0 70.8 L116.5 72.0 L118.5 74.5 L118.8 76.5 L117.0 77.5 L113.0 77.3 L110.5 76.0 L109.8 74.0 Z" fill="#1c4fb4"/>
<path d="M179.3 115.8 L180.8 118.5 L182.6 121.5" fill="none" stroke="#f4f4ea" stroke-width="1.1" stroke-linecap="round"/>
<circle cx="185.6" cy="125.4" r="0.7" fill="#f4f4ea"/>
</g>
</g>
<text x="27.099999999999998" y="206.4" font-family="'Liberation Serif', serif" font-weight="bold" font-size="6" text-anchor="middle" fill="#111">(c)</text>
<text x="218.3" y="218.5" font-family="'Liberation Serif', serif" font-weight="bold" font-size="5" text-anchor="middle" fill="#111">N</text>
<path d="M218.3 220.29999999999998 L215.10000000000002 231.1 L218.3 228.3 Z" fill="#111"/>
<path d="M218.3 220.29999999999998 L221.5 231.1 L218.3 228.3 Z" fill="#fff" stroke="#111" stroke-width="0.6"/>
<rect x="161.0" y="339.7" width="81.0" height="0.8" fill="#111"/>
<rect x="161.0" y="340.5" width="81.0" height="0.5" fill="#555"/>
<rect x="161.0" y="339.7" width="20.0" height="1.5" fill="#111"/>
<rect x="181.0" y="340.5" width="20.5" height="1.6" fill="#111"/>
<rect x="201.5" y="339.7" width="40.5" height="1.5" fill="#111"/>
<text x="161.0" y="337.4" font-family="'Liberation Serif', serif" font-size="3.2" text-anchor="middle" fill="#222">0</text>
<text x="181.0" y="337.4" font-family="'Liberation Serif', serif" font-size="3.2" text-anchor="middle" fill="#222">75</text>
<text x="201.5" y="337.4" font-family="'Liberation Serif', serif" font-size="3.2" text-anchor="middle" fill="#222">150</text>
<text x="242.0" y="337.4" font-family="'Liberation Serif', serif" font-size="3.2" text-anchor="middle" fill="#222">300</text>
<text x="244.0" y="342.3" font-family="'Liberation Serif', serif" font-size="3.2" fill="#222">km</text>
<rect x="26.90" y="338.1" width="15.80" height="5.3" fill="#1c4fb4"/>
<rect x="42.60" y="338.1" width="15.80" height="5.3" fill="#0b6b0b"/>
<rect x="58.30" y="338.1" width="15.80" height="5.3" fill="#2c9a16"/>
<rect x="74.00" y="338.1" width="15.80" height="5.3" fill="#9bca1c"/>
<rect x="89.70" y="338.1" width="15.80" height="5.3" fill="#ffff00"/>
<rect x="105.40" y="338.1" width="15.80" height="5.3" fill="#ffba00"/>
<rect x="121.10" y="338.1" width="15.80" height="5.3" fill="#ff8200"/>
<rect x="136.80" y="338.1" width="15.80" height="5.3" fill="#ff2010"/>
<text x="84.19999999999999" y="335.1" font-family="'Liberation Serif', serif" font-weight="bold" font-size="6" text-anchor="middle" fill="#111">EOS (DOY)</text>
<text x="34.6" y="350.2" font-family="'Liberation Serif', serif" font-size="6" text-anchor="middle" fill="#222">lake</text>
<text x="58.30" y="350.2" font-family="'Liberation Serif', serif" font-size="6" text-anchor="middle" fill="#222">240</text>
<text x="74.00" y="350.2" font-family="'Liberation Serif', serif" font-size="6" text-anchor="middle" fill="#222">250</text>
<text x="89.70" y="350.2" font-family="'Liberation Serif', serif" font-size="6" text-anchor="middle" fill="#222">260</text>
<text x="105.40" y="350.2" font-family="'Liberation Serif', serif" font-size="6" text-anchor="middle" fill="#222">270</text>
<text x="121.10" y="350.2" font-family="'Liberation Serif', serif" font-size="6" text-anchor="middle" fill="#222">280</text>
<text x="136.80" y="350.2" font-family="'Liberation Serif', serif" font-size="6" text-anchor="middle" fill="#222">290</text>
<text x="15.2" y="195.1" font-family="'Liberation Serif', serif" font-size="3.9" text-anchor="end" fill="#333">40° N</text>
<text x="15.2" y="256.0" font-family="'Liberation Serif', serif" font-size="3.9" text-anchor="end" fill="#333">38° N</text>
<text x="15.2" y="316.5" font-family="'Liberation Serif', serif" font-size="3.9" text-anchor="end" fill="#333">36° N</text>
<rect x="288.5" y="191.6" width="248" height="162.4" fill="none" stroke="#bdbdbd" stroke-width="1.1"/>
<g transform="translate(288.5,195.9)">
<g transform="translate(-16.4,-10.9)">
<path d="M39.0 35.7 L41.5 38.5 L44.5 42.0 L46.4 45.8 L46.2 50.0 L45.5 55.9 L41.8 56.8 L38.0 55.5 L34.4 54.1 L30.5 52.2 L27.0 50.4 L23.4 49.5 L24.3 53.1 L27.0 55.6 L30.7 57.8 L34.5 59.5 L38.1 61.4 L40.2 63.5 L41.8 66.0 L43.8 70.0 L45.5 73.4 L48.2 78.9 L48.4 83.5 L48.2 88.1 L49.1 93.7 L52.8 99.2 L57.0 101.0 L62.0 102.9 L66.5 104.8 L71.2 106.6 L76.0 107.6 L80.5 108.4 L86.0 110.2 L89.7 113.9 L93.0 115.0 L97.0 114.5" fill="none" stroke="#dadada" stroke-width="1.1" stroke-linejoin="round"/>
<g filter="url(#sb)"><g mask="url(#dm)">
<g>
<path d="M0.0 0.0 L300.0 0.0 L300.0 200.0 L0.0 200.0 Z" fill="#ff8a10"/>
<path d="M30.0 22.0 L57.0 22.0 L57.0 45.0 L30.0 45.0 Z" fill="#6cd21c"/>
<path d="M57.0 18.0 L100.0 18.0 L100.0 33.0 L92.0 34.0 L88.0 27.0 L70.0 27.0 L66.0 45.0 L57.0 45.0 Z" fill="#6cd21c"/>
<path d="M40.0 45.0 L101.0 45.0 L101.0 68.0 L40.0 68.0 Z" fill="#ff8a10"/>
<path d="M90.0 22.0 L125.0 30.0 L120.0 45.0 L96.0 48.0 L90.0 35.0 Z" fill="#6cd21c"/>
<path d="M92.2 28.1 L98.4 26.5 L103.0 21.3 L110.1 24.8 L115.7 27.6 L123.0 30.5 L130.6 34.2 L136.4 37.9 L142.0 40.7 L147.8 43.6 L155.4 47.3 L161.5 52.0 L164.2 54.7 L168.1 56.6 L174.5 59.1 L178.1 64.3 L182.1 68.2 L185.9 70.8 L189.1 71.9 L192.6 71.3 L196.8 69.8 L200.5 69.3 L205.7 69.8 L211.2 73.3 L210.0 77.3 L210.1 78.7 L213.7 80.3 L218.4 83.4 L223.3 87.8 L227.8 91.0 L232.7 97.4 L234.3 101.9 L234.5 104.1 L238.6 103.4 L244.1 103.9 L247.6 106.1 L250.2 108.0 L254.8 110.6 L258.5 113.1 L261.5 115.4 L264.0 117.8 L259.3 122.9 L256.9 120.7 L254.5 118.8 L251.1 116.6 L246.5 113.9 L243.6 111.9 L242.0 110.6 L238.6 110.4 L231.5 110.4 L227.8 104.5 L226.6 100.9 L222.9 95.9 L218.9 93.3 L214.0 88.9 L210.2 86.4 L204.8 83.3 L203.0 76.5 L204.9 76.4 L203.8 76.5 L200.5 76.3 L198.6 76.6 L194.3 78.1 L188.6 78.9 L182.7 77.1 L177.6 73.6 L172.7 68.8 L170.3 64.7 L165.3 63.1 L160.2 60.5 L157.0 57.4 L151.7 53.3 L144.7 49.9 L138.9 47.0 L132.9 44.0 L127.2 40.3 L120.2 36.9 L112.9 34.0 L106.8 30.9 L104.2 28.2 L102.2 32.4 L94.1 34.8 Z" fill="#6cd21c"/>
<path d="M120.0 85.0 L165.0 98.0 L168.0 135.0 L130.0 120.0 L105.0 100.0 Z" fill="#6cd21c"/>
<path d="M183.0 116.0 L222.0 116.0 L234.0 158.0 L183.0 158.0 Z" fill="#ff8a10"/>
<path d="M222.0 112.0 L265.0 112.0 L265.0 135.0 L234.0 135.0 Z" fill="#ff8a10"/>
<path d="M178.0 60.0 L262.0 112.0 L240.0 108.0 L180.0 75.0 Z" fill="#6cd21c"/>
<path d="M243.0 110.0 L264.0 110.0 L264.0 126.0 L243.0 126.0 Z" fill="#ff8a10"/>
</g><g mask="url(#nm)">
<path d="M0.0 0.0 L300.0 0.0 L300.0 200.0 L0.0 200.0 Z" fill="#6cd21c"/>
<path d="M30.0 22.0 L57.0 22.0 L57.0 45.0 L30.0 45.0 Z" fill="#ff8a10"/>
<path d="M57.0 18.0 L100.0 18.0 L100.0 33.0 L92.0 34.0 L88.0 27.0 L70.0 27.0 L66.0 45.0 L57.0 45.0 Z" fill="#ff8a10"/>
<path d="M40.0 45.0 L101.0 45.0 L101.0 68.0 L40.0 68.0 Z" fill="#6cd21c"/>
<path d="M90.0 22.0 L125.0 30.0 L120.0 45.0 L96.0 48.0 L90.0 35.0 Z" fill="#ff8a10"/>
<path d="M92.2 28.1 L98.4 26.5 L103.0 21.3 L110.1 24.8 L115.7 27.6 L123.0 30.5 L130.6 34.2 L136.4 37.9 L142.0 40.7 L147.8 43.6 L155.4 47.3 L161.5 52.0 L164.2 54.7 L168.1 56.6 L174.5 59.1 L178.1 64.3 L182.1 68.2 L185.9 70.8 L189.1 71.9 L192.6 71.3 L196.8 69.8 L200.5 69.3 L205.7 69.8 L211.2 73.3 L210.0 77.3 L210.1 78.7 L213.7 80.3 L218.4 83.4 L223.3 87.8 L227.8 91.0 L232.7 97.4 L234.3 101.9 L234.5 104.1 L238.6 103.4 L244.1 103.9 L247.6 106.1 L250.2 108.0 L254.8 110.6 L258.5 113.1 L261.5 115.4 L264.0 117.8 L259.3 122.9 L256.9 120.7 L254.5 118.8 L251.1 116.6 L246.5 113.9 L243.6 111.9 L242.0 110.6 L238.6 110.4 L231.5 110.4 L227.8 104.5 L226.6 100.9 L222.9 95.9 L218.9 93.3 L214.0 88.9 L210.2 86.4 L204.8 83.3 L203.0 76.5 L204.9 76.4 L203.8 76.5 L200.5 76.3 L198.6 76.6 L194.3 78.1 L188.6 78.9 L182.7 77.1 L177.6 73.6 L172.7 68.8 L170.3 64.7 L165.3 63.1 L160.2 60.5 L157.0 57.4 L151.7 53.3 L144.7 49.9 L138.9 47.0 L132.9 44.0 L127.2 40.3 L120.2 36.9 L112.9 34.0 L106.8 30.9 L104.2 28.2 L102.2 32.4 L94.1 34.8 Z" fill="#34b418"/>
<path d="M120.0 85.0 L165.0 98.0 L168.0 135.0 L130.0 120.0 L105.0 100.0 Z" fill="#ff8a10"/>
<path d="M183.0 116.0 L222.0 116.0 L234.0 158.0 L183.0 158.0 Z" fill="#ff2a10"/>
<path d="M222.0 112.0 L265.0 112.0 L265.0 135.0 L234.0 135.0 Z" fill="#ff8a10"/>
<path d="M178.0 60.0 L262.0 112.0 L240.0 108.0 L180.0 75.0 Z" fill="#ff8a10"/>
<path d="M243.0 110.0 L264.0 110.0 L264.0 126.0 L243.0 126.0 Z" fill="#ff8a10"/>
</g><g mask="url(#nmL)">
<path d="M0.0 0.0 L300.0 0.0 L300.0 200.0 L0.0 200.0 Z" fill="#6cd21c"/>
<path d="M30.0 22.0 L57.0 22.0 L57.0 45.0 L30.0 45.0 Z" fill="#ff8a10"/>
<path d="M57.0 18.0 L100.0 18.0 L100.0 33.0 L92.0 34.0 L88.0 27.0 L70.0 27.0 L66.0 45.0 L57.0 45.0 Z" fill="#ff8a10"/>
<path d="M40.0 45.0 L101.0 45.0 L101.0 68.0 L40.0 68.0 Z" fill="#6cd21c"/>
<path d="M90.0 22.0 L125.0 30.0 L120.0 45.0 L96.0 48.0 L90.0 35.0 Z" fill="#ff8a10"/>
<path d="M92.2 28.1 L98.4 26.5 L103.0 21.3 L110.1 24.8 L115.7 27.6 L123.0 30.5 L130.6 34.2 L136.4 37.9 L142.0 40.7 L147.8 43.6 L155.4 47.3 L161.5 52.0 L164.2 54.7 L168.1 56.6 L174.5 59.1 L178.1 64.3 L182.1 68.2 L185.9 70.8 L189.1 71.9 L192.6 71.3 L196.8 69.8 L200.5 69.3 L205.7 69.8 L211.2 73.3 L210.0 77.3 L210.1 78.7 L213.7 80.3 L218.4 83.4 L223.3 87.8 L227.8 91.0 L232.7 97.4 L234.3 101.9 L234.5 104.1 L238.6 103.4 L244.1 103.9 L247.6 106.1 L250.2 108.0 L254.8 110.6 L258.5 113.1 L261.5 115.4 L264.0 117.8 L259.3 122.9 L256.9 120.7 L254.5 118.8 L251.1 116.6 L246.5 113.9 L243.6 111.9 L242.0 110.6 L238.6 110.4 L231.5 110.4 L227.8 104.5 L226.6 100.9 L222.9 95.9 L218.9 93.3 L214.0 88.9 L210.2 86.4 L204.8 83.3 L203.0 76.5 L204.9 76.4 L203.8 76.5 L200.5 76.3 L198.6 76.6 L194.3 78.1 L188.6 78.9 L182.7 77.1 L177.6 73.6 L172.7 68.8 L170.3 64.7 L165.3 63.1 L160.2 60.5 L157.0 57.4 L151.7 53.3 L144.7 49.9 L138.9 47.0 L132.9 44.0 L127.2 40.3 L120.2 36.9 L112.9 34.0 L106.8 30.9 L104.2 28.2 L102.2 32.4 L94.1 34.8 Z" fill="#34b418"/>
<path d="M120.0 85.0 L165.0 98.0 L168.0 135.0 L130.0 120.0 L105.0 100.0 Z" fill="#ff8a10"/>
<path d="M183.0 116.0 L222.0 116.0 L234.0 158.0 L183.0 158.0 Z" fill="#ff2a10"/>
<path d="M222.0 112.0 L265.0 112.0 L265.0 135.0 L234.0 135.0 Z" fill="#6cd21c"/>
<path d="M178.0 60.0 L262.0 112.0 L240.0 108.0 L180.0 75.0 Z" fill="#ff8a10"/>
<path d="M243.0 110.0 L264.0 110.0 L264.0 126.0 L243.0 126.0 Z" fill="#6cd21c"/>
</g><g mask="url(#nm2)">
<path d="M0.0 0.0 L300.0 0.0 L300.0 200.0 L0.0 200.0 Z" fill="#ff4a10"/>
<path d="M30.0 22.0 L57.0 22.0 L57.0 45.0 L30.0 45.0 Z" fill="#ff8a10"/>
<path d="M57.0 18.0 L100.0 18.0 L100.0 33.0 L92.0 34.0 L88.0 27.0 L70.0 27.0 L66.0 45.0 L57.0 45.0 Z" fill="#ff8a10"/>
<path d="M40.0 45.0 L101.0 45.0 L101.0 68.0 L40.0 68.0 Z" fill="#6cd21c"/>
<path d="M90.0 22.0 L125.0 30.0 L120.0 45.0 L96.0 48.0 L90.0 35.0 Z" fill="#34b418"/>
<path d="M92.2 28.1 L98.4 26.5 L103.0 21.3 L110.1 24.8 L115.7 27.6 L123.0 30.5 L130.6 34.2 L136.4 37.9 L142.0 40.7 L147.8 43.6 L155.4 47.3 L161.5 52.0 L164.2 54.7 L168.1 56.6 L174.5 59.1 L178.1 64.3 L182.1 68.2 L185.9 70.8 L189.1 71.9 L192.6 71.3 L196.8 69.8 L200.5 69.3 L205.7 69.8 L211.2 73.3 L210.0 77.3 L210.1 78.7 L213.7 80.3 L218.4 83.4 L223.3 87.8 L227.8 91.0 L232.7 97.4 L234.3 101.9 L234.5 104.1 L238.6 103.4 L244.1 103.9 L247.6 106.1 L250.2 108.0 L254.8 110.6 L258.5 113.1 L261.5 115.4 L264.0 117.8 L259.3 122.9 L256.9 120.7 L254.5 118.8 L251.1 116.6 L246.5 113.9 L243.6 111.9 L242.0 110.6 L238.6 110.4 L231.5 110.4 L227.8 104.5 L226.6 100.9 L222.9 95.9 L218.9 93.3 L214.0 88.9 L210.2 86.4 L204.8 83.3 L203.0 76.5 L204.9 76.4 L203.8 76.5 L200.5 76.3 L198.6 76.6 L194.3 78.1 L188.6 78.9 L182.7 77.1 L177.6 73.6 L172.7 68.8 L170.3 64.7 L165.3 63.1 L160.2 60.5 L157.0 57.4 L151.7 53.3 L144.7 49.9 L138.9 47.0 L132.9 44.0 L127.2 40.3 L120.2 36.9 L112.9 34.0 L106.8 30.9 L104.2 28.2 L102.2 32.4 L94.1 34.8 Z" fill="#ff8a10"/>
<path d="M120.0 85.0 L165.0 98.0 L168.0 135.0 L130.0 120.0 L105.0 100.0 Z" fill="#34b418"/>
<path d="M183.0 116.0 L222.0 116.0 L234.0 158.0 L183.0 158.0 Z" fill="#ff5010"/>
<path d="M222.0 112.0 L265.0 112.0 L265.0 135.0 L234.0 135.0 Z" fill="#ff3010"/>
<path d="M178.0 60.0 L262.0 112.0 L240.0 108.0 L180.0 75.0 Z" fill="#ff8a10"/>
<path d="M243.0 110.0 L264.0 110.0 L264.0 126.0 L243.0 126.0 Z" fill="#ff3010"/>
</g>
</g></g>
<path d="M162.7 111.8 L165.9 110.7 L168.2 110.5 L170.9 111.8 L174.5 111.4 L176.4 112.7 L178.2 115.5 L180.0 117.3 L181.8 119.5 L184.1 122.3 L185.5 124.1 L185.0 126.8 L184.1 130.0 L182.3 130.9 L179.1 129.5 L176.4 128.2 L172.7 127.7 L168.2 127.3 L165.0 125.9 L163.2 123.6 L161.8 121.8 L159.5 119.5 L159.1 118.2 L160.9 116.8 L163.2 116.4 L163.6 114.5 L162.7 113.2 Z" fill="#1c4fb4"/>
<path d="M110.0 72.5 L111.5 71.0 L114.0 70.8 L116.5 72.0 L118.5 74.5 L118.8 76.5 L117.0 77.5 L113.0 77.3 L110.5 76.0 L109.8 74.0 Z" fill="#1c4fb4"/>
<path d="M179.3 115.8 L180.8 118.5 L182.6 121.5" fill="none" stroke="#f4f4ea" stroke-width="1.1" stroke-linecap="round"/>
<circle cx="185.6" cy="125.4" r="0.7" fill="#f4f4ea"/>
</g>
</g>
<text x="299.2" y="206.4" font-family="'Liberation Serif', serif" font-weight="bold" font-size="6" text-anchor="middle" fill="#111">(d)</text>
<text x="490.4" y="218.5" font-family="'Liberation Serif', serif" font-weight="bold" font-size="5" text-anchor="middle" fill="#111">N</text>
<path d="M490.4 220.29999999999998 L487.2 231.1 L490.4 228.3 Z" fill="#111"/>
<path d="M490.4 220.29999999999998 L493.59999999999997 231.1 L490.4 228.3 Z" fill="#fff" stroke="#111" stroke-width="0.6"/>
<rect x="432.29999999999995" y="344.0" width="81.0" height="0.8" fill="#111"/>
<rect x="432.29999999999995" y="344.8" width="81.0" height="0.5" fill="#555"/>
<rect x="432.29999999999995" y="344.0" width="20.0" height="1.5" fill="#111"/>
<rect x="452.29999999999995" y="344.8" width="20.5" height="1.6" fill="#111"/>
<rect x="472.79999999999995" y="344.0" width="40.5" height="1.5" fill="#111"/>
<text x="432.29999999999995" y="341.7" font-family="'Liberation Serif', serif" font-size="3.2" text-anchor="middle" fill="#222">0</text>
<text x="452.29999999999995" y="341.7" font-family="'Liberation Serif', serif" font-size="3.2" text-anchor="middle" fill="#222">75</text>
<text x="472.79999999999995" y="341.7" font-family="'Liberation Serif', serif" font-size="3.2" text-anchor="middle" fill="#222">150</text>
<text x="513.3" y="341.7" font-family="'Liberation Serif', serif" font-size="3.2" text-anchor="middle" fill="#222">300</text>
<text x="515.3" y="346.6" font-family="'Liberation Serif', serif" font-size="3.2" fill="#222">km</text>
<text x="311.3" y="301.2" font-family="'Liberation Serif', serif" font-weight="bold" font-size="5.2" fill="#111">EOS</text>
<rect x="311.3" y="304.50" width="15.7" height="5.1" fill="#1c4fb4"/>
<text x="328.9" y="308.80" font-family="'Liberation Serif', serif" font-size="5.6" fill="#222">lake</text>
<rect x="311.3" y="312.60" width="15.7" height="5.1" fill="#1a9e1a"/>
<text x="328.9" y="316.90" font-family="'Liberation Serif', serif" font-size="5.6" fill="#222">Significantly advanced</text>
<rect x="311.3" y="320.30" width="15.7" height="5.1" fill="#6fd020"/>
<text x="328.9" y="324.60" font-family="'Liberation Serif', serif" font-size="5.6" fill="#222">Insignificantly advanced</text>
<rect x="311.3" y="327.90" width="15.7" height="5.1" fill="#ffff00"/>
<text x="328.9" y="332.20" font-family="'Liberation Serif', serif" font-size="5.6" fill="#222">No changed</text>
<rect x="311.3" y="335.80" width="15.7" height="5.1" fill="#ff8c1a"/>
<text x="328.9" y="340.10" font-family="'Liberation Serif', serif" font-size="5.6" fill="#222">Insignificantly delayed</text>
<rect x="311.3" y="343.30" width="15.7" height="5.1" fill="#ff1a1a"/>
<text x="328.9" y="347.60" font-family="'Liberation Serif', serif" font-size="5.6" fill="#222">Significantly delayed</text>
<text x="537.7" y="215.20000000000002" font-family="'Liberation Serif', serif" font-size="3.9" fill="#444">40° N</text>
<text x="537.7" y="276.40000000000003" font-family="'Liberation Serif', serif" font-size="3.9" fill="#444">38° N</text>
<text x="537.7" y="336.40000000000003" font-family="'Liberation Serif', serif" font-size="3.9" fill="#444">36° N</text>
<rect x="16.4" y="372.5" width="248" height="162" fill="none" stroke="#bdbdbd" stroke-width="1.1"/>
<g transform="translate(16.4,372.5)">
<g transform="translate(-16.4,-10.9)">
<path d="M39.0 35.7 L41.5 38.5 L44.5 42.0 L46.4 45.8 L46.2 50.0 L45.5 55.9 L41.8 56.8 L38.0 55.5 L34.4 54.1 L30.5 52.2 L27.0 50.4 L23.4 49.5 L24.3 53.1 L27.0 55.6 L30.7 57.8 L34.5 59.5 L38.1 61.4 L40.2 63.5 L41.8 66.0 L43.8 70.0 L45.5 73.4 L48.2 78.9 L48.4 83.5 L48.2 88.1 L49.1 93.7 L52.8 99.2 L57.0 101.0 L62.0 102.9 L66.5 104.8 L71.2 106.6 L76.0 107.6 L80.5 108.4 L86.0 110.2 L89.7 113.9 L93.0 115.0 L97.0 114.5" fill="none" stroke="#dadada" stroke-width="1.1" stroke-linejoin="round"/>
<g filter="url(#sb)"><g mask="url(#dm)">
<g>
<path d="M0.0 0.0 L300.0 0.0 L300.0 200.0 L0.0 200.0 Z" fill="#ffba00"/>
<path d="M30.0 22.0 L57.0 22.0 L57.0 45.0 L30.0 45.0 Z" fill="#ff2010"/>
<path d="M57.0 18.0 L100.0 18.0 L100.0 33.0 L92.0 34.0 L88.0 27.0 L70.0 27.0 L66.0 45.0 L57.0 45.0 Z" fill="#ff8200"/>
<path d="M40.0 45.0 L101.0 45.0 L101.0 68.0 L40.0 68.0 Z" fill="#ff2010"/>
<path d="M45.0 72.0 L121.0 72.0 L124.0 113.0 L45.0 113.0 Z" fill="#ff8200"/>
<path d="M96.0 26.0 L150.0 40.0 L165.0 70.0 L150.0 90.0 L120.0 90.0 L96.0 70.0 Z" fill="#2c9a16"/>
<path d="M96.0 24.0 L135.0 36.0 L132.0 44.0 L96.0 34.0 Z" fill="#ffba00"/>
<path d="M120.0 80.0 L160.0 70.0 L185.0 95.0 L185.0 140.0 L150.0 140.0 L115.0 110.0 Z" fill="#9bca1c"/>
<path d="M159.3 108.6 L163.6 107.1 L166.7 106.8 L170.3 108.6 L175.2 108.0 L177.8 109.8 L180.2 113.6 L182.6 116.0 L185.1 119.0 L188.2 122.8 L190.1 125.2 L189.4 128.8 L188.2 133.2 L185.7 134.4 L181.4 132.5 L177.8 130.7 L172.8 130.0 L166.7 129.5 L162.4 127.6 L159.9 124.5 L158.1 122.1 L154.9 119.0 L154.4 117.2 L156.8 115.3 L159.9 114.8 L160.5 112.2 L159.3 110.5 Z" fill="#ffff00"/>
<path d="M178.0 58.0 L270.0 58.0 L270.0 162.0 L200.0 162.0 L195.0 140.0 L188.0 118.0 L185.0 100.0 L180.0 80.0 Z" fill="#ff9000"/>
<path d="M92.2 28.1 L98.4 26.5 L103.0 21.3 L110.1 24.8 L115.7 27.6 L123.0 30.5 L130.6 34.2 L136.4 37.9 L142.0 40.7 L147.8 43.6 L155.4 47.3 L161.5 52.0 L164.2 54.7 L168.1 56.6 L174.5 59.1 L178.1 64.3 L182.1 68.2 L185.9 70.8 L189.1 71.9 L192.6 71.3 L196.8 69.8 L200.5 69.3 L205.7 69.8 L211.2 73.3 L210.0 77.3 L210.1 78.7 L213.7 80.3 L218.4 83.4 L223.3 87.8 L227.8 91.0 L232.7 97.4 L234.3 101.9 L234.5 104.1 L238.6 103.4 L244.1 103.9 L247.6 106.1 L250.2 108.0 L254.8 110.6 L258.5 113.1 L261.5 115.4 L264.0 117.8 L260.0 122.2 L257.5 120.0 L255.1 117.9 L251.6 115.8 L247.0 113.0 L244.2 111.1 L242.3 109.7 L238.6 109.4 L231.9 109.5 L228.7 104.1 L227.5 100.4 L223.6 95.2 L219.5 92.6 L214.6 88.2 L210.7 85.5 L205.5 82.7 L204.0 76.7 L205.8 75.9 L204.1 75.6 L200.5 75.3 L198.4 75.6 L194.0 77.1 L188.7 77.9 L183.1 76.2 L178.3 72.8 L173.5 68.1 L170.9 63.9 L165.7 62.2 L160.8 59.7 L157.7 56.6 L152.2 52.5 L145.2 49.0 L139.4 46.1 L133.4 43.1 L127.6 39.4 L120.6 35.9 L113.3 33.0 L107.3 30.0 L104.0 27.3 L101.6 31.5 L93.8 33.9 Z" fill="#ff2010"/>
<path d="M101.8 95.8 L107.9 98.9 L113.8 103.3 L120.7 107.4 L127.5 110.1 L135.0 112.4 L141.1 115.4 L147.2 118.5 L152.1 122.4 L156.0 125.9 L161.2 128.4 L166.9 130.6 L172.5 132.7 L178.0 134.0 L180.6 134.6 L185.8 135.2 L188.9 134.2 L190.0 138.0 L186.0 139.2 L180.0 138.6 L177.1 137.9 L171.3 136.5 L165.5 134.3 L159.6 132.1 L153.8 129.2 L149.5 125.5 L145.1 121.9 L139.3 119.0 L133.5 116.1 L126.2 113.9 L118.9 111.0 L111.6 106.6 L105.8 102.3 L100.0 99.4 Z" fill="#ff8200"/>
</g><g mask="url(#nm)">
<path d="M0.0 0.0 L300.0 0.0 L300.0 200.0 L0.0 200.0 Z" fill="#ff8200"/>
<path d="M30.0 22.0 L57.0 22.0 L57.0 45.0 L30.0 45.0 Z" fill="#ffba00"/>
<path d="M57.0 18.0 L100.0 18.0 L100.0 33.0 L92.0 34.0 L88.0 27.0 L70.0 27.0 L66.0 45.0 L57.0 45.0 Z" fill="#ffba00"/>
<path d="M40.0 45.0 L101.0 45.0 L101.0 68.0 L40.0 68.0 Z" fill="#ff8200"/>
<path d="M45.0 72.0 L121.0 72.0 L124.0 113.0 L45.0 113.0 Z" fill="#ffba00"/>
<path d="M96.0 26.0 L150.0 40.0 L165.0 70.0 L150.0 90.0 L120.0 90.0 L96.0 70.0 Z" fill="#2c9a16"/>
<path d="M96.0 24.0 L135.0 36.0 L132.0 44.0 L96.0 34.0 Z" fill="#9bca1c"/>
<path d="M120.0 80.0 L160.0 70.0 L185.0 95.0 L185.0 140.0 L150.0 140.0 L115.0 110.0 Z" fill="#2c9a16"/>
<path d="M159.3 108.6 L163.6 107.1 L166.7 106.8 L170.3 108.6 L175.2 108.0 L177.8 109.8 L180.2 113.6 L182.6 116.0 L185.1 119.0 L188.2 122.8 L190.1 125.2 L189.4 128.8 L188.2 133.2 L185.7 134.4 L181.4 132.5 L177.8 130.7 L172.8 130.0 L166.7 129.5 L162.4 127.6 L159.9 124.5 L158.1 122.1 L154.9 119.0 L154.4 117.2 L156.8 115.3 L159.9 114.8 L160.5 112.2 L159.3 110.5 Z" fill="#9bca1c"/>
<path d="M178.0 58.0 L270.0 58.0 L270.0 162.0 L200.0 162.0 L195.0 140.0 L188.0 118.0 L185.0 100.0 L180.0 80.0 Z" fill="#ffc000"/>
<path d="M92.2 28.1 L98.4 26.5 L103.0 21.3 L110.1 24.8 L115.7 27.6 L123.0 30.5 L130.6 34.2 L136.4 37.9 L142.0 40.7 L147.8 43.6 L155.4 47.3 L161.5 52.0 L164.2 54.7 L168.1 56.6 L174.5 59.1 L178.1 64.3 L182.1 68.2 L185.9 70.8 L189.1 71.9 L192.6 71.3 L196.8 69.8 L200.5 69.3 L205.7 69.8 L211.2 73.3 L210.0 77.3 L210.1 78.7 L213.7 80.3 L218.4 83.4 L223.3 87.8 L227.8 91.0 L232.7 97.4 L234.3 101.9 L234.5 104.1 L238.6 103.4 L244.1 103.9 L247.6 106.1 L250.2 108.0 L254.8 110.6 L258.5 113.1 L261.5 115.4 L264.0 117.8 L260.0 122.2 L257.5 120.0 L255.1 117.9 L251.6 115.8 L247.0 113.0 L244.2 111.1 L242.3 109.7 L238.6 109.4 L231.9 109.5 L228.7 104.1 L227.5 100.4 L223.6 95.2 L219.5 92.6 L214.6 88.2 L210.7 85.5 L205.5 82.7 L204.0 76.7 L205.8 75.9 L204.1 75.6 L200.5 75.3 L198.4 75.6 L194.0 77.1 L188.7 77.9 L183.1 76.2 L178.3 72.8 L173.5 68.1 L170.9 63.9 L165.7 62.2 L160.8 59.7 L157.7 56.6 L152.2 52.5 L145.2 49.0 L139.4 46.1 L133.4 43.1 L127.6 39.4 L120.6 35.9 L113.3 33.0 L107.3 30.0 L104.0 27.3 L101.6 31.5 L93.8 33.9 Z" fill="#ff8200"/>
<path d="M101.8 95.8 L107.9 98.9 L113.8 103.3 L120.7 107.4 L127.5 110.1 L135.0 112.4 L141.1 115.4 L147.2 118.5 L152.1 122.4 L156.0 125.9 L161.2 128.4 L166.9 130.6 L172.5 132.7 L178.0 134.0 L180.6 134.6 L185.8 135.2 L188.9 134.2 L190.0 138.0 L186.0 139.2 L180.0 138.6 L177.1 137.9 L171.3 136.5 L165.5 134.3 L159.6 132.1 L153.8 129.2 L149.5 125.5 L145.1 121.9 L139.3 119.0 L133.5 116.1 L126.2 113.9 L118.9 111.0 L111.6 106.6 L105.8 102.3 L100.0 99.4 Z" fill="#ffba00"/>
</g><g mask="url(#nmL)">
<path d="M0.0 0.0 L300.0 0.0 L300.0 200.0 L0.0 200.0 Z" fill="#ff8200"/>
<path d="M30.0 22.0 L57.0 22.0 L57.0 45.0 L30.0 45.0 Z" fill="#ffba00"/>
<path d="M57.0 18.0 L100.0 18.0 L100.0 33.0 L92.0 34.0 L88.0 27.0 L70.0 27.0 L66.0 45.0 L57.0 45.0 Z" fill="#ffba00"/>
<path d="M40.0 45.0 L101.0 45.0 L101.0 68.0 L40.0 68.0 Z" fill="#ff8200"/>
<path d="M45.0 72.0 L121.0 72.0 L124.0 113.0 L45.0 113.0 Z" fill="#ffba00"/>
<path d="M96.0 26.0 L150.0 40.0 L165.0 70.0 L150.0 90.0 L120.0 90.0 L96.0 70.0 Z" fill="#9bca1c"/>
<path d="M96.0 24.0 L135.0 36.0 L132.0 44.0 L96.0 34.0 Z" fill="#9bca1c"/>
<path d="M120.0 80.0 L160.0 70.0 L185.0 95.0 L185.0 140.0 L150.0 140.0 L115.0 110.0 Z" fill="#2c9a16"/>
<path d="M159.3 108.6 L163.6 107.1 L166.7 106.8 L170.3 108.6 L175.2 108.0 L177.8 109.8 L180.2 113.6 L182.6 116.0 L185.1 119.0 L188.2 122.8 L190.1 125.2 L189.4 128.8 L188.2 133.2 L185.7 134.4 L181.4 132.5 L177.8 130.7 L172.8 130.0 L166.7 129.5 L162.4 127.6 L159.9 124.5 L158.1 122.1 L154.9 119.0 L154.4 117.2 L156.8 115.3 L159.9 114.8 L160.5 112.2 L159.3 110.5 Z" fill="#9bca1c"/>
<path d="M178.0 58.0 L270.0 58.0 L270.0 162.0 L200.0 162.0 L195.0 140.0 L188.0 118.0 L185.0 100.0 L180.0 80.0 Z" fill="#ffc000"/>
<path d="M92.2 28.1 L98.4 26.5 L103.0 21.3 L110.1 24.8 L115.7 27.6 L123.0 30.5 L130.6 34.2 L136.4 37.9 L142.0 40.7 L147.8 43.6 L155.4 47.3 L161.5 52.0 L164.2 54.7 L168.1 56.6 L174.5 59.1 L178.1 64.3 L182.1 68.2 L185.9 70.8 L189.1 71.9 L192.6 71.3 L196.8 69.8 L200.5 69.3 L205.7 69.8 L211.2 73.3 L210.0 77.3 L210.1 78.7 L213.7 80.3 L218.4 83.4 L223.3 87.8 L227.8 91.0 L232.7 97.4 L234.3 101.9 L234.5 104.1 L238.6 103.4 L244.1 103.9 L247.6 106.1 L250.2 108.0 L254.8 110.6 L258.5 113.1 L261.5 115.4 L264.0 117.8 L260.0 122.2 L257.5 120.0 L255.1 117.9 L251.6 115.8 L247.0 113.0 L244.2 111.1 L242.3 109.7 L238.6 109.4 L231.9 109.5 L228.7 104.1 L227.5 100.4 L223.6 95.2 L219.5 92.6 L214.6 88.2 L210.7 85.5 L205.5 82.7 L204.0 76.7 L205.8 75.9 L204.1 75.6 L200.5 75.3 L198.4 75.6 L194.0 77.1 L188.7 77.9 L183.1 76.2 L178.3 72.8 L173.5 68.1 L170.9 63.9 L165.7 62.2 L160.8 59.7 L157.7 56.6 L152.2 52.5 L145.2 49.0 L139.4 46.1 L133.4 43.1 L127.6 39.4 L120.6 35.9 L113.3 33.0 L107.3 30.0 L104.0 27.3 L101.6 31.5 L93.8 33.9 Z" fill="#ff8200"/>
<path d="M101.8 95.8 L107.9 98.9 L113.8 103.3 L120.7 107.4 L127.5 110.1 L135.0 112.4 L141.1 115.4 L147.2 118.5 L152.1 122.4 L156.0 125.9 L161.2 128.4 L166.9 130.6 L172.5 132.7 L178.0 134.0 L180.6 134.6 L185.8 135.2 L188.9 134.2 L190.0 138.0 L186.0 139.2 L180.0 138.6 L177.1 137.9 L171.3 136.5 L165.5 134.3 L159.6 132.1 L153.8 129.2 L149.5 125.5 L145.1 121.9 L139.3 119.0 L133.5 116.1 L126.2 113.9 L118.9 111.0 L111.6 106.6 L105.8 102.3 L100.0 99.4 Z" fill="#ffba00"/>
</g><g mask="url(#nm2)">
<path d="M0.0 0.0 L300.0 0.0 L300.0 200.0 L0.0 200.0 Z" fill="#ffff00"/>
<path d="M30.0 22.0 L57.0 22.0 L57.0 45.0 L30.0 45.0 Z" fill="#ffba00"/>
<path d="M57.0 18.0 L100.0 18.0 L100.0 33.0 L92.0 34.0 L88.0 27.0 L70.0 27.0 L66.0 45.0 L57.0 45.0 Z" fill="#ff2010"/>
<path d="M40.0 45.0 L101.0 45.0 L101.0 68.0 L40.0 68.0 Z" fill="#ff8200"/>
<path d="M45.0 72.0 L121.0 72.0 L124.0 113.0 L45.0 113.0 Z" fill="#ff2010"/>
<path d="M96.0 26.0 L150.0 40.0 L165.0 70.0 L150.0 90.0 L120.0 90.0 L96.0 70.0 Z" fill="#0b6b0b"/>
<path d="M96.0 24.0 L135.0 36.0 L132.0 44.0 L96.0 34.0 Z" fill="#ff2010"/>
<path d="M120.0 80.0 L160.0 70.0 L185.0 95.0 L185.0 140.0 L150.0 140.0 L115.0 110.0 Z" fill="#ffff00"/>
<path d="M159.3 108.6 L163.6 107.1 L166.7 106.8 L170.3 108.6 L175.2 108.0 L177.8 109.8 L180.2 113.6 L182.6 116.0 L185.1 119.0 L188.2 122.8 L190.1 125.2 L189.4 128.8 L188.2 133.2 L185.7 134.4 L181.4 132.5 L177.8 130.7 L172.8 130.0 L166.7 129.5 L162.4 127.6 L159.9 124.5 L158.1 122.1 L154.9 119.0 L154.4 117.2 L156.8 115.3 L159.9 114.8 L160.5 112.2 L159.3 110.5 Z" fill="#9bca1c"/>
<path d="M178.0 58.0 L270.0 58.0 L270.0 162.0 L200.0 162.0 L195.0 140.0 L188.0 118.0 L185.0 100.0 L180.0 80.0 Z" fill="#ff2a10"/>
<path d="M92.2 28.1 L98.4 26.5 L103.0 21.3 L110.1 24.8 L115.7 27.6 L123.0 30.5 L130.6 34.2 L136.4 37.9 L142.0 40.7 L147.8 43.6 L155.4 47.3 L161.5 52.0 L164.2 54.7 L168.1 56.6 L174.5 59.1 L178.1 64.3 L182.1 68.2 L185.9 70.8 L189.1 71.9 L192.6 71.3 L196.8 69.8 L200.5 69.3 L205.7 69.8 L211.2 73.3 L210.0 77.3 L210.1 78.7 L213.7 80.3 L218.4 83.4 L223.3 87.8 L227.8 91.0 L232.7 97.4 L234.3 101.9 L234.5 104.1 L238.6 103.4 L244.1 103.9 L247.6 106.1 L250.2 108.0 L254.8 110.6 L258.5 113.1 L261.5 115.4 L264.0 117.8 L260.0 122.2 L257.5 120.0 L255.1 117.9 L251.6 115.8 L247.0 113.0 L244.2 111.1 L242.3 109.7 L238.6 109.4 L231.9 109.5 L228.7 104.1 L227.5 100.4 L223.6 95.2 L219.5 92.6 L214.6 88.2 L210.7 85.5 L205.5 82.7 L204.0 76.7 L205.8 75.9 L204.1 75.6 L200.5 75.3 L198.4 75.6 L194.0 77.1 L188.7 77.9 L183.1 76.2 L178.3 72.8 L173.5 68.1 L170.9 63.9 L165.7 62.2 L160.8 59.7 L157.7 56.6 L152.2 52.5 L145.2 49.0 L139.4 46.1 L133.4 43.1 L127.6 39.4 L120.6 35.9 L113.3 33.0 L107.3 30.0 L104.0 27.3 L101.6 31.5 L93.8 33.9 Z" fill="#ff8200"/>
<path d="M101.8 95.8 L107.9 98.9 L113.8 103.3 L120.7 107.4 L127.5 110.1 L135.0 112.4 L141.1 115.4 L147.2 118.5 L152.1 122.4 L156.0 125.9 L161.2 128.4 L166.9 130.6 L172.5 132.7 L178.0 134.0 L180.6 134.6 L185.8 135.2 L188.9 134.2 L190.0 138.0 L186.0 139.2 L180.0 138.6 L177.1 137.9 L171.3 136.5 L165.5 134.3 L159.6 132.1 L153.8 129.2 L149.5 125.5 L145.1 121.9 L139.3 119.0 L133.5 116.1 L126.2 113.9 L118.9 111.0 L111.6 106.6 L105.8 102.3 L100.0 99.4 Z" fill="#ffba00"/>
</g>
</g></g>
<path d="M162.7 111.8 L165.9 110.7 L168.2 110.5 L170.9 111.8 L174.5 111.4 L176.4 112.7 L178.2 115.5 L180.0 117.3 L181.8 119.5 L184.1 122.3 L185.5 124.1 L185.0 126.8 L184.1 130.0 L182.3 130.9 L179.1 129.5 L176.4 128.2 L172.7 127.7 L168.2 127.3 L165.0 125.9 L163.2 123.6 L161.8 121.8 L159.5 119.5 L159.1 118.2 L160.9 116.8 L163.2 116.4 L163.6 114.5 L162.7 113.2 Z" fill="#1c4fb4"/>
<path d="M110.0 72.5 L111.5 71.0 L114.0 70.8 L116.5 72.0 L118.5 74.5 L118.8 76.5 L117.0 77.5 L113.0 77.3 L110.5 76.0 L109.8 74.0 Z" fill="#1c4fb4"/>
<path d="M179.3 115.8 L180.8 118.5 L182.6 121.5" fill="none" stroke="#f4f4ea" stroke-width="1.1" stroke-linecap="round"/>
<circle cx="185.6" cy="125.4" r="0.7" fill="#f4f4ea"/>
</g>
</g>
<text x="27.099999999999998" y="387.3" font-family="'Liberation Serif', serif" font-weight="bold" font-size="6" text-anchor="middle" fill="#111">(e)</text>
<text x="218.3" y="399.4" font-family="'Liberation Serif', serif" font-weight="bold" font-size="5" text-anchor="middle" fill="#111">N</text>
<path d="M218.3 401.2 L215.10000000000002 412.0 L218.3 409.2 Z" fill="#111"/>
<path d="M218.3 401.2 L221.5 412.0 L218.3 409.2 Z" fill="#fff" stroke="#111" stroke-width="0.6"/>
<rect x="161.0" y="520.6" width="81.0" height="0.8" fill="#111"/>
<rect x="161.0" y="521.4" width="81.0" height="0.5" fill="#555"/>
<rect x="161.0" y="520.6" width="20.0" height="1.5" fill="#111"/>
<rect x="181.0" y="521.4" width="20.5" height="1.6" fill="#111"/>
<rect x="201.5" y="520.6" width="40.5" height="1.5" fill="#111"/>
<text x="161.0" y="518.3000000000001" font-family="'Liberation Serif', serif" font-size="3.2" text-anchor="middle" fill="#222">0</text>
<text x="181.0" y="518.3000000000001" font-family="'Liberation Serif', serif" font-size="3.2" text-anchor="middle" fill="#222">75</text>
<text x="201.5" y="518.3000000000001" font-family="'Liberation Serif', serif" font-size="3.2" text-anchor="middle" fill="#222">150</text>
<text x="242.0" y="518.3000000000001" font-family="'Liberation Serif', serif" font-size="3.2" text-anchor="middle" fill="#222">300</text>
<text x="244.0" y="523.2" font-family="'Liberation Serif', serif" font-size="3.2" fill="#222">km</text>
<rect x="26.90" y="519.0" width="15.80" height="5.3" fill="#1c4fb4"/>
<rect x="42.60" y="519.0" width="15.80" height="5.3" fill="#0b6b0b"/>
<rect x="58.30" y="519.0" width="15.80" height="5.3" fill="#2c9a16"/>
<rect x="74.00" y="519.0" width="15.80" height="5.3" fill="#9bca1c"/>
<rect x="89.70" y="519.0" width="15.80" height="5.3" fill="#ffff00"/>
<rect x="105.40" y="519.0" width="15.80" height="5.3" fill="#ffba00"/>
<rect x="121.10" y="519.0" width="15.80" height="5.3" fill="#ff8200"/>
<rect x="136.80" y="519.0" width="15.80" height="5.3" fill="#ff2010"/>
<text x="84.19999999999999" y="516.0" font-family="'Liberation Serif', serif" font-weight="bold" font-size="6" text-anchor="middle" fill="#111">LOS (DOY)</text>
<text x="34.6" y="531.1" font-family="'Liberation Serif', serif" font-size="6" text-anchor="middle" fill="#222">lake</text>
<text x="58.30" y="531.1" font-family="'Liberation Serif', serif" font-size="6" text-anchor="middle" fill="#222">110</text>
<text x="74.00" y="531.1" font-family="'Liberation Serif', serif" font-size="6" text-anchor="middle" fill="#222">120</text>
<text x="89.70" y="531.1" font-family="'Liberation Serif', serif" font-size="6" text-anchor="middle" fill="#222">130</text>
<text x="105.40" y="531.1" font-family="'Liberation Serif', serif" font-size="6" text-anchor="middle" fill="#222">140</text>
<text x="121.10" y="531.1" font-family="'Liberation Serif', serif" font-size="6" text-anchor="middle" fill="#222">150</text>
<text x="136.80" y="531.1" font-family="'Liberation Serif', serif" font-size="6" text-anchor="middle" fill="#222">160</text>
<text x="15.2" y="376.0" font-family="'Liberation Serif', serif" font-size="3.9" text-anchor="end" fill="#333">40° N</text>
<text x="15.2" y="436.90000000000003" font-family="'Liberation Serif', serif" font-size="3.9" text-anchor="end" fill="#333">38° N</text>
<text x="15.2" y="497.40000000000003" font-family="'Liberation Serif', serif" font-size="3.9" text-anchor="end" fill="#333">36° N</text>
<rect x="288.5" y="372.5" width="246.1" height="161.1" fill="none" stroke="#bdbdbd" stroke-width="1.1"/>
<g transform="translate(287.5,376.8)">
<g transform="translate(-16.4,-10.9)">
<path d="M39.0 35.7 L41.5 38.5 L44.5 42.0 L46.4 45.8 L46.2 50.0 L45.5 55.9 L41.8 56.8 L38.0 55.5 L34.4 54.1 L30.5 52.2 L27.0 50.4 L23.4 49.5 L24.3 53.1 L27.0 55.6 L30.7 57.8 L34.5 59.5 L38.1 61.4 L40.2 63.5 L41.8 66.0 L43.8 70.0 L45.5 73.4 L48.2 78.9 L48.4 83.5 L48.2 88.1 L49.1 93.7 L52.8 99.2 L57.0 101.0 L62.0 102.9 L66.5 104.8 L71.2 106.6 L76.0 107.6 L80.5 108.4 L86.0 110.2 L89.7 113.9 L93.0 115.0 L97.0 114.5" fill="none" stroke="#dadada" stroke-width="1.1" stroke-linejoin="round"/>
<g filter="url(#sb)"><g mask="url(#dm)">
<g>
<path d="M0.0 0.0 L300.0 0.0 L300.0 200.0 L0.0 200.0 Z" fill="#ff8a10"/>
<path d="M30.0 22.0 L57.0 22.0 L57.0 45.0 L30.0 45.0 Z" fill="#6cd21c"/>
<path d="M57.0 18.0 L100.0 18.0 L100.0 33.0 L92.0 34.0 L88.0 27.0 L70.0 27.0 L66.0 45.0 L57.0 45.0 Z" fill="#6cd21c"/>
<path d="M92.2 28.1 L98.4 26.5 L103.0 21.3 L110.1 24.8 L115.7 27.6 L123.0 30.5 L130.6 34.2 L136.4 37.9 L142.0 40.7 L147.8 43.6 L155.4 47.3 L161.5 52.0 L164.2 54.7 L168.1 56.6 L174.5 59.1 L178.3 64.5 L171.6 69.0 L169.7 65.5 L165.0 64.0 L159.6 61.3 L156.4 58.1 L151.2 54.2 L144.3 50.8 L138.5 47.9 L132.4 44.8 L126.7 41.2 L119.8 37.8 L112.5 34.9 L106.3 31.8 L104.4 29.2 L102.7 33.2 L94.4 35.8 Z" fill="#6cd21c"/>
<path d="M175.2 59.8 L178.1 64.3 L182.1 68.2 L185.9 70.8 L189.1 71.9 L192.6 71.3 L196.8 69.8 L200.5 69.3 L205.7 69.8 L211.2 73.3 L210.0 77.3 L210.1 78.7 L213.7 80.3 L218.4 83.4 L223.3 87.8 L227.8 91.0 L232.7 97.4 L234.3 101.9 L234.5 104.1 L238.6 103.4 L244.1 103.9 L247.6 106.1 L250.2 108.0 L254.8 110.6 L258.5 113.1 L261.5 115.4 L264.0 117.8 L257.3 125.2 L254.9 123.0 L252.7 121.2 L249.6 119.2 L244.9 116.4 L241.9 114.4 L241.2 113.5 L238.6 113.4 L230.2 113.1 L225.0 105.6 L224.1 102.4 L220.8 98.0 L217.0 95.7 L212.1 91.3 L208.7 88.9 L202.5 85.3 L200.0 76.2 L202.2 77.7 L203.0 79.4 L200.5 79.3 L199.4 79.5 L195.0 81.0 L188.3 81.9 L181.3 79.7 L175.7 75.9 L170.4 70.7 L166.9 65.4 Z" fill="#ff8a10"/>
<path d="M90.0 85.0 L150.0 105.0 L165.0 135.0 L120.0 115.0 L90.0 110.0 Z" fill="#ff8a10"/>
</g><g mask="url(#nm)">
<path d="M0.0 0.0 L300.0 0.0 L300.0 200.0 L0.0 200.0 Z" fill="#ff6010"/>
<path d="M30.0 22.0 L57.0 22.0 L57.0 45.0 L30.0 45.0 Z" fill="#ff8a10"/>
<path d="M57.0 18.0 L100.0 18.0 L100.0 33.0 L92.0 34.0 L88.0 27.0 L70.0 27.0 L66.0 45.0 L57.0 45.0 Z" fill="#34b418"/>
<path d="M92.2 28.1 L98.4 26.5 L103.0 21.3 L110.1 24.8 L115.7 27.6 L123.0 30.5 L130.6 34.2 L136.4 37.9 L142.0 40.7 L147.8 43.6 L155.4 47.3 L161.5 52.0 L164.2 54.7 L168.1 56.6 L174.5 59.1 L178.3 64.5 L171.6 69.0 L169.7 65.5 L165.0 64.0 L159.6 61.3 L156.4 58.1 L151.2 54.2 L144.3 50.8 L138.5 47.9 L132.4 44.8 L126.7 41.2 L119.8 37.8 L112.5 34.9 L106.3 31.8 L104.4 29.2 L102.7 33.2 L94.4 35.8 Z" fill="#6cd21c"/>
<path d="M175.2 59.8 L178.1 64.3 L182.1 68.2 L185.9 70.8 L189.1 71.9 L192.6 71.3 L196.8 69.8 L200.5 69.3 L205.7 69.8 L211.2 73.3 L210.0 77.3 L210.1 78.7 L213.7 80.3 L218.4 83.4 L223.3 87.8 L227.8 91.0 L232.7 97.4 L234.3 101.9 L234.5 104.1 L238.6 103.4 L244.1 103.9 L247.6 106.1 L250.2 108.0 L254.8 110.6 L258.5 113.1 L261.5 115.4 L264.0 117.8 L257.3 125.2 L254.9 123.0 L252.7 121.2 L249.6 119.2 L244.9 116.4 L241.9 114.4 L241.2 113.5 L238.6 113.4 L230.2 113.1 L225.0 105.6 L224.1 102.4 L220.8 98.0 L217.0 95.7 L212.1 91.3 L208.7 88.9 L202.5 85.3 L200.0 76.2 L202.2 77.7 L203.0 79.4 L200.5 79.3 L199.4 79.5 L195.0 81.0 L188.3 81.9 L181.3 79.7 L175.7 75.9 L170.4 70.7 L166.9 65.4 Z" fill="#ff8a10"/>
<path d="M90.0 85.0 L150.0 105.0 L165.0 135.0 L120.0 115.0 L90.0 110.0 Z" fill="#ff8a10"/>
</g><g mask="url(#nmL)">
<path d="M0.0 0.0 L300.0 0.0 L300.0 200.0 L0.0 200.0 Z" fill="#ff6010"/>
<path d="M30.0 22.0 L57.0 22.0 L57.0 45.0 L30.0 45.0 Z" fill="#ff8a10"/>
<path d="M57.0 18.0 L100.0 18.0 L100.0 33.0 L92.0 34.0 L88.0 27.0 L70.0 27.0 L66.0 45.0 L57.0 45.0 Z" fill="#34b418"/>
<path d="M92.2 28.1 L98.4 26.5 L103.0 21.3 L110.1 24.8 L115.7 27.6 L123.0 30.5 L130.6 34.2 L136.4 37.9 L142.0 40.7 L147.8 43.6 L155.4 47.3 L161.5 52.0 L164.2 54.7 L168.1 56.6 L174.5 59.1 L178.3 64.5 L171.6 69.0 L169.7 65.5 L165.0 64.0 L159.6 61.3 L156.4 58.1 L151.2 54.2 L144.3 50.8 L138.5 47.9 L132.4 44.8 L126.7 41.2 L119.8 37.8 L112.5 34.9 L106.3 31.8 L104.4 29.2 L102.7 33.2 L94.4 35.8 Z" fill="#6cd21c"/>
<path d="M175.2 59.8 L178.1 64.3 L182.1 68.2 L185.9 70.8 L189.1 71.9 L192.6 71.3 L196.8 69.8 L200.5 69.3 L205.7 69.8 L211.2 73.3 L210.0 77.3 L210.1 78.7 L213.7 80.3 L218.4 83.4 L223.3 87.8 L227.8 91.0 L232.7 97.4 L234.3 101.9 L234.5 104.1 L238.6 103.4 L244.1 103.9 L247.6 106.1 L250.2 108.0 L254.8 110.6 L258.5 113.1 L261.5 115.4 L264.0 117.8 L257.3 125.2 L254.9 123.0 L252.7 121.2 L249.6 119.2 L244.9 116.4 L241.9 114.4 L241.2 113.5 L238.6 113.4 L230.2 113.1 L225.0 105.6 L224.1 102.4 L220.8 98.0 L217.0 95.7 L212.1 91.3 L208.7 88.9 L202.5 85.3 L200.0 76.2 L202.2 77.7 L203.0 79.4 L200.5 79.3 L199.4 79.5 L195.0 81.0 L188.3 81.9 L181.3 79.7 L175.7 75.9 L170.4 70.7 L166.9 65.4 Z" fill="#6cd21c"/>
<path d="M90.0 85.0 L150.0 105.0 L165.0 135.0 L120.0 115.0 L90.0 110.0 Z" fill="#6cd21c"/>
</g><g mask="url(#nm2)">
<path d="M0.0 0.0 L300.0 0.0 L300.0 200.0 L0.0 200.0 Z" fill="#ff1a1a"/>
<path d="M30.0 22.0 L57.0 22.0 L57.0 45.0 L30.0 45.0 Z" fill="#ff8a10"/>
<path d="M57.0 18.0 L100.0 18.0 L100.0 33.0 L92.0 34.0 L88.0 27.0 L70.0 27.0 L66.0 45.0 L57.0 45.0 Z" fill="#34b418"/>
<path d="M92.2 28.1 L98.4 26.5 L103.0 21.3 L110.1 24.8 L115.7 27.6 L123.0 30.5 L130.6 34.2 L136.4 37.9 L142.0 40.7 L147.8 43.6 L155.4 47.3 L161.5 52.0 L164.2 54.7 L168.1 56.6 L174.5 59.1 L178.3 64.5 L171.6 69.0 L169.7 65.5 L165.0 64.0 L159.6 61.3 L156.4 58.1 L151.2 54.2 L144.3 50.8 L138.5 47.9 L132.4 44.8 L126.7 41.2 L119.8 37.8 L112.5 34.9 L106.3 31.8 L104.4 29.2 L102.7 33.2 L94.4 35.8 Z" fill="#ff8a10"/>
<path d="M175.2 59.8 L178.1 64.3 L182.1 68.2 L185.9 70.8 L189.1 71.9 L192.6 71.3 L196.8 69.8 L200.5 69.3 L205.7 69.8 L211.2 73.3 L210.0 77.3 L210.1 78.7 L213.7 80.3 L218.4 83.4 L223.3 87.8 L227.8 91.0 L232.7 97.4 L234.3 101.9 L234.5 104.1 L238.6 103.4 L244.1 103.9 L247.6 106.1 L250.2 108.0 L254.8 110.6 L258.5 113.1 L261.5 115.4 L264.0 117.8 L257.3 125.2 L254.9 123.0 L252.7 121.2 L249.6 119.2 L244.9 116.4 L241.9 114.4 L241.2 113.5 L238.6 113.4 L230.2 113.1 L225.0 105.6 L224.1 102.4 L220.8 98.0 L217.0 95.7 L212.1 91.3 L208.7 88.9 L202.5 85.3 L200.0 76.2 L202.2 77.7 L203.0 79.4 L200.5 79.3 L199.4 79.5 L195.0 81.0 L188.3 81.9 L181.3 79.7 L175.7 75.9 L170.4 70.7 L166.9 65.4 Z" fill="#ff3010"/>
<path d="M90.0 85.0 L150.0 105.0 L165.0 135.0 L120.0 115.0 L90.0 110.0 Z" fill="#ff5010"/>
</g>
</g></g>
<path d="M162.7 111.8 L165.9 110.7 L168.2 110.5 L170.9 111.8 L174.5 111.4 L176.4 112.7 L178.2 115.5 L180.0 117.3 L181.8 119.5 L184.1 122.3 L185.5 124.1 L185.0 126.8 L184.1 130.0 L182.3 130.9 L179.1 129.5 L176.4 128.2 L172.7 127.7 L168.2 127.3 L165.0 125.9 L163.2 123.6 L161.8 121.8 L159.5 119.5 L159.1 118.2 L160.9 116.8 L163.2 116.4 L163.6 114.5 L162.7 113.2 Z" fill="#1c4fb4"/>
<path d="M110.0 72.5 L111.5 71.0 L114.0 70.8 L116.5 72.0 L118.5 74.5 L118.8 76.5 L117.0 77.5 L113.0 77.3 L110.5 76.0 L109.8 74.0 Z" fill="#1c4fb4"/>
<path d="M179.3 115.8 L180.8 118.5 L182.6 121.5" fill="none" stroke="#f4f4ea" stroke-width="1.1" stroke-linecap="round"/>
<circle cx="185.6" cy="125.4" r="0.7" fill="#f4f4ea"/>
</g>
</g>
<text x="299.2" y="387.3" font-family="'Liberation Serif', serif" font-weight="bold" font-size="6" text-anchor="middle" fill="#111">(f)</text>
<text x="490.4" y="399.4" font-family="'Liberation Serif', serif" font-weight="bold" font-size="5" text-anchor="middle" fill="#111">N</text>
<path d="M490.4 401.2 L487.2 412.0 L490.4 409.2 Z" fill="#111"/>
<path d="M490.4 401.2 L493.59999999999997 412.0 L490.4 409.2 Z" fill="#fff" stroke="#111" stroke-width="0.6"/>
<rect x="431.29999999999995" y="524.9" width="81.0" height="0.8" fill="#111"/>
<rect x="431.29999999999995" y="525.6999999999999" width="81.0" height="0.5" fill="#555"/>
<rect x="431.29999999999995" y="524.9" width="20.0" height="1.5" fill="#111"/>
<rect x="451.29999999999995" y="525.6999999999999" width="20.5" height="1.6" fill="#111"/>
<rect x="471.79999999999995" y="524.9" width="40.5" height="1.5" fill="#111"/>
<text x="431.29999999999995" y="522.6" font-family="'Liberation Serif', serif" font-size="3.2" text-anchor="middle" fill="#222">0</text>
<text x="451.29999999999995" y="522.6" font-family="'Liberation Serif', serif" font-size="3.2" text-anchor="middle" fill="#222">75</text>
<text x="471.79999999999995" y="522.6" font-family="'Liberation Serif', serif" font-size="3.2" text-anchor="middle" fill="#222">150</text>
<text x="512.3" y="522.6" font-family="'Liberation Serif', serif" font-size="3.2" text-anchor="middle" fill="#222">300</text>
<text x="514.3" y="527.5" font-family="'Liberation Serif', serif" font-size="3.2" fill="#222">km</text>
<text x="311.3" y="482.1" font-family="'Liberation Serif', serif" font-weight="bold" font-size="5.2" fill="#111">LOS</text>
<rect x="311.3" y="485.40" width="15.7" height="5.1" fill="#1c4fb4"/>
<text x="328.9" y="489.70" font-family="'Liberation Serif', serif" font-size="5.6" fill="#222">lake</text>
<rect x="311.3" y="493.50" width="15.7" height="5.1" fill="#1a9e1a"/>
<text x="328.9" y="497.80" font-family="'Liberation Serif', serif" font-size="5.6" fill="#222">Significantly shorted</text>
<rect x="311.3" y="501.20" width="15.7" height="5.1" fill="#6fd020"/>
<text x="328.9" y="505.50" font-family="'Liberation Serif', serif" font-size="5.6" fill="#222">Insignificantly shorted</text>
<rect x="311.3" y="508.80" width="15.7" height="5.1" fill="#ffff00"/>
<text x="328.9" y="513.10" font-family="'Liberation Serif', serif" font-size="5.6" fill="#222">No changed</text>
<rect x="311.3" y="516.70" width="15.7" height="5.1" fill="#ff8c1a"/>
<text x="328.9" y="521.00" font-family="'Liberation Serif', serif" font-size="5.6" fill="#222">Insignificantly extended</text>
<rect x="311.3" y="524.20" width="15.7" height="5.1" fill="#ff1a1a"/>
<text x="328.9" y="528.50" font-family="'Liberation Serif', serif" font-size="5.6" fill="#222">Significantly extended</text>
<text x="535.8000000000001" y="396.1" font-family="'Liberation Serif', serif" font-size="3.9" fill="#444">40° N</text>
<text x="535.8000000000001" y="457.3" font-family="'Liberation Serif', serif" font-size="3.9" fill="#444">38° N</text>
<text x="535.8000000000001" y="517.3" font-family="'Liberation Serif', serif" font-size="3.9" fill="#444">36° N</text>
<text x="37" y="8.7" font-family="'Liberation Serif', serif" font-size="3.6" text-anchor="middle" fill="#444">94° E</text>
<line x1="37" y1="10.9" x2="37" y2="12.4" stroke="#999" stroke-width="0.5"/>
<text x="82.9" y="8.7" font-family="'Liberation Serif', serif" font-size="3.6" text-anchor="middle" fill="#444">96° E</text>
<line x1="82.9" y1="10.9" x2="82.9" y2="12.4" stroke="#999" stroke-width="0.5"/>
<text x="127.8" y="8.7" font-family="'Liberation Serif', serif" font-size="3.6" text-anchor="middle" fill="#444">98° E</text>
<line x1="127.8" y1="10.9" x2="127.8" y2="12.4" stroke="#999" stroke-width="0.5"/>
<text x="172.2" y="8.7" font-family="'Liberation Serif', serif" font-size="3.6" text-anchor="middle" fill="#444">100° E</text>
<line x1="172.2" y1="10.9" x2="172.2" y2="12.4" stroke="#999" stroke-width="0.5"/>
<text x="218.6" y="8.7" font-family="'Liberation Serif', serif" font-size="3.6" text-anchor="middle" fill="#444">102° E</text>
<line x1="218.6" y1="10.9" x2="218.6" y2="12.4" stroke="#999" stroke-width="0.5"/>
<text x="263.5" y="8.7" font-family="'Liberation Serif', serif" font-size="3.6" text-anchor="middle" fill="#444">104° E</text>
<line x1="263.5" y1="10.9" x2="263.5" y2="12.4" stroke="#999" stroke-width="0.5"/>
<text x="309" y="8.7" font-family="'Liberation Serif', serif" font-size="3.6" text-anchor="middle" fill="#444">94° E</text>
<line x1="309" y1="10.9" x2="309" y2="12.4" stroke="#999" stroke-width="0.5"/>
<text x="354.9" y="8.7" font-family="'Liberation Serif', serif" font-size="3.6" text-anchor="middle" fill="#444">96° E</text>
<line x1="354.9" y1="10.9" x2="354.9" y2="12.4" stroke="#999" stroke-width="0.5"/>
<text x="399.8" y="8.7" font-family="'Liberation Serif', serif" font-size="3.6" text-anchor="middle" fill="#444">98° E</text>
<line x1="399.8" y1="10.9" x2="399.8" y2="12.4" stroke="#999" stroke-width="0.5"/>
<text x="444.2" y="8.7" font-family="'Liberation Serif', serif" font-size="3.6" text-anchor="middle" fill="#444">100° E</text>
<line x1="444.2" y1="10.9" x2="444.2" y2="12.4" stroke="#999" stroke-width="0.5"/>
<text x="490.6" y="8.7" font-family="'Liberation Serif', serif" font-size="3.6" text-anchor="middle" fill="#444">102° E</text>
<line x1="490.6" y1="10.9" x2="490.6" y2="12.4" stroke="#999" stroke-width="0.5"/>
<text x="535.5" y="8.7" font-family="'Liberation Serif', serif" font-size="3.6" text-anchor="middle" fill="#444">104° E</text>
<line x1="535.5" y1="10.9" x2="535.5" y2="12.4" stroke="#999" stroke-width="0.5"/>
<text x="19" y="540.3" font-family="'Liberation Serif', serif" font-size="3.6" text-anchor="middle" fill="#444">94° E</text>
<text x="66.5" y="540.3" font-family="'Liberation Serif', serif" font-size="3.6" text-anchor="middle" fill="#444">96° E</text>
<text x="116" y="540.3" font-family="'Liberation Serif', serif" font-size="3.6" text-anchor="middle" fill="#444">98° E</text>
<text x="163.5" y="540.3" font-family="'Liberation Serif', serif" font-size="3.6" text-anchor="middle" fill="#444">100° E</text>
<text x="212.5" y="540.3" font-family="'Liberation Serif', serif" font-size="3.6" text-anchor="middle" fill="#444">102° E</text>
<text x="260" y="540.3" font-family="'Liberation Serif', serif" font-size="3.6" text-anchor="middle" fill="#444">104° E</text>
<text x="292.1" y="539.3" font-family="'Liberation Serif', serif" font-size="3.6" text-anchor="middle" fill="#444">94° E</text>
<text x="339.6" y="539.3" font-family="'Liberation Serif', serif" font-size="3.6" text-anchor="middle" fill="#444">96° E</text>
<text x="389.1" y="539.3" font-family="'Liberation Serif', serif" font-size="3.6" text-anchor="middle" fill="#444">98° E</text>
<text x="436.6" y="539.3" font-family="'Liberation Serif', serif" font-size="3.6" text-anchor="middle" fill="#444">100° E</text>
<text x="485.6" y="539.3" font-family="'Liberation Serif', serif" font-size="3.6" text-anchor="middle" fill="#444">102° E</text>
<text x="533.1" y="539.3" font-family="'Liberation Serif', serif" font-size="3.6" text-anchor="middle" fill="#444">104° E</text>
</svg>
</body></html>
